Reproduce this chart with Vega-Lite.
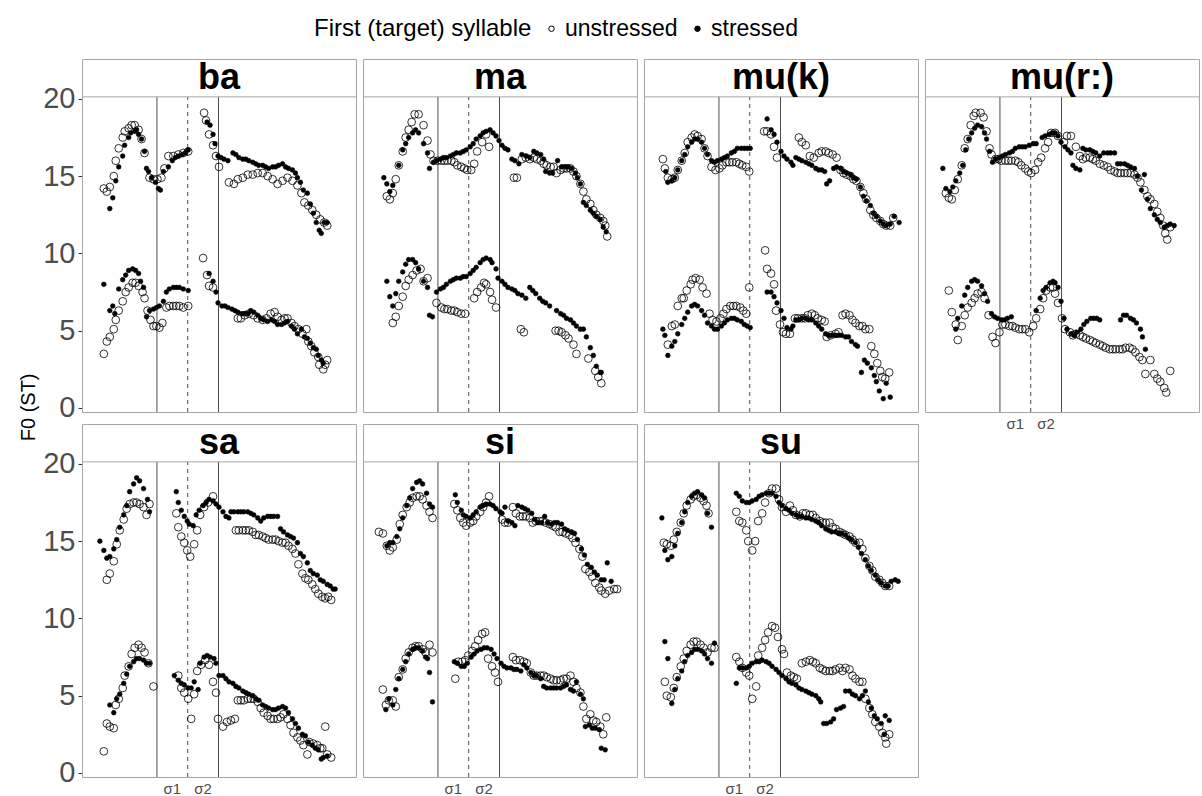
{
"$schema":"https://vega.github.io/schema/vega-lite/v6.json",
"autosize":{"type":"pad"},
"bounds":"flush",
"padding":{"left":18,"top":17,"right":0,"bottom":19},
"background":"white",
"title":{"text":"F0 (ST)","orient":"left","anchor":"middle","fontSize":20,"fontWeight":"normal","color":"black","offset":4},
"data":{"values":[
{"p":"ba","r":75.5,"d":"solid"},{"p":"ba","r":106.5,"d":"dashed"},{"p":"ba","r":137.5,"d":"solid"},
{"p":"ma","r":75.5,"d":"solid"},{"p":"ma","r":106.5,"d":"dashed"},{"p":"ma","r":137.5,"d":"solid"},
{"p":"mu(k)","r":75.5,"d":"solid"},{"p":"mu(k)","r":106.5,"d":"dashed"},{"p":"mu(k)","r":137.5,"d":"solid"},
{"p":"mu(r:)","r":75.5,"d":"solid"},{"p":"mu(r:)","r":106.5,"d":"dashed"},{"p":"mu(r:)","r":137.5,"d":"solid"},
{"p":"sa","r":75.5,"d":"solid"},{"p":"sa","r":106.5,"d":"dashed"},{"p":"sa","r":137.5,"d":"solid"},
{"p":"si","r":75.5,"d":"solid"},{"p":"si","r":106.5,"d":"dashed"},{"p":"si","r":137.5,"d":"solid"},
{"p":"su","r":75.5,"d":"solid"},{"p":"su","r":106.5,"d":"dashed"},{"p":"su","r":137.5,"d":"solid"},
{"p":"ba","s":"u","x":22,"y":14.2},{"p":"ba","s":"u","x":25,"y":14.0},{"p":"ba","s":"u","x":28,"y":14.3},{"p":"ba","s":"u","x":32,"y":15.0},{"p":"ba","s":"u","x":34,"y":16.0},{"p":"ba","s":"u","x":37,"y":16.8},{"p":"ba","s":"u","x":41,"y":17.5},{"p":"ba","s":"u","x":43,"y":17.9},{"p":"ba","s":"u","x":47,"y":18.1},{"p":"ba","s":"u","x":50,"y":18.3},{"p":"ba","s":"u","x":53,"y":18.3},{"p":"ba","s":"u","x":57,"y":18.0},{"p":"ba","s":"u","x":60,"y":17.4},{"p":"ba","s":"u","x":63,"y":16.5},{"p":"ba","s":"u","x":68,"y":14.9},{"p":"ba","s":"u","x":72,"y":14.8},{"p":"ba","s":"u","x":76,"y":14.8},{"p":"ba","s":"u","x":80,"y":14.9},{"p":"ba","s":"u","x":83,"y":15.5},{"p":"ba","s":"u","x":87,"y":16.3},{"p":"ba","s":"u","x":92,"y":16.3},{"p":"ba","s":"u","x":97,"y":16.4},{"p":"ba","s":"u","x":102,"y":16.5},{"p":"ba","s":"u","x":107,"y":16.6},{"p":"ba","s":"u","x":123,"y":19.1},{"p":"ba","s":"u","x":125,"y":18.6},{"p":"ba","s":"u","x":128,"y":17.7},{"p":"ba","s":"u","x":132,"y":17.0},{"p":"ba","s":"u","x":135,"y":16.3},{"p":"ba","s":"u","x":138,"y":15.6},{"p":"ba","s":"u","x":148,"y":14.6},{"p":"ba","s":"u","x":153,"y":14.5},{"p":"ba","s":"u","x":157,"y":14.8},{"p":"ba","s":"u","x":162,"y":14.9},{"p":"ba","s":"u","x":167,"y":15.1},{"p":"ba","s":"u","x":172,"y":15.1},{"p":"ba","s":"u","x":177,"y":15.2},{"p":"ba","s":"u","x":182,"y":15.2},{"p":"ba","s":"u","x":187,"y":15.0},{"p":"ba","s":"u","x":192,"y":14.8},{"p":"ba","s":"u","x":197,"y":14.5},{"p":"ba","s":"u","x":202,"y":14.7},{"p":"ba","s":"u","x":207,"y":14.9},{"p":"ba","s":"u","x":212,"y":14.7},{"p":"ba","s":"u","x":217,"y":14.4},{"p":"ba","s":"u","x":221,"y":13.9},{"p":"ba","s":"u","x":224,"y":13.3},{"p":"ba","s":"u","x":228,"y":13.1},{"p":"ba","s":"u","x":232,"y":12.8},{"p":"ba","s":"u","x":236,"y":12.5},{"p":"ba","s":"u","x":240,"y":12.2},{"p":"ba","s":"u","x":244,"y":12.0},{"p":"ba","s":"u","x":247,"y":11.8},
{"p":"ba","s":"u","x":22,"y":3.5},{"p":"ba","s":"u","x":25,"y":4.3},{"p":"ba","s":"u","x":28,"y":4.6},{"p":"ba","s":"u","x":32,"y":5.1},{"p":"ba","s":"u","x":34,"y":5.7},{"p":"ba","s":"u","x":37,"y":6.3},{"p":"ba","s":"u","x":41,"y":6.9},{"p":"ba","s":"u","x":44,"y":7.5},{"p":"ba","s":"u","x":47,"y":7.8},{"p":"ba","s":"u","x":51,"y":8.1},{"p":"ba","s":"u","x":54,"y":8.1},{"p":"ba","s":"u","x":57,"y":7.9},{"p":"ba","s":"u","x":61,"y":7.5},{"p":"ba","s":"u","x":63,"y":7.1},{"p":"ba","s":"u","x":66,"y":6.3},{"p":"ba","s":"u","x":69,"y":5.7},{"p":"ba","s":"u","x":72,"y":5.3},{"p":"ba","s":"u","x":75,"y":5.3},{"p":"ba","s":"u","x":78,"y":5.2},{"p":"ba","s":"u","x":81,"y":5.5},{"p":"ba","s":"u","x":85,"y":6.5},{"p":"ba","s":"u","x":88,"y":6.6},{"p":"ba","s":"u","x":92,"y":6.6},{"p":"ba","s":"u","x":95,"y":6.6},{"p":"ba","s":"u","x":98,"y":6.6},{"p":"ba","s":"u","x":102,"y":6.5},{"p":"ba","s":"u","x":107,"y":6.6},{"p":"ba","s":"u","x":122,"y":9.7},{"p":"ba","s":"u","x":126,"y":8.6},{"p":"ba","s":"u","x":128,"y":7.9},{"p":"ba","s":"u","x":132,"y":7.8},{"p":"ba","s":"u","x":157,"y":5.8},{"p":"ba","s":"u","x":160,"y":5.8},{"p":"ba","s":"u","x":164,"y":6.0},{"p":"ba","s":"u","x":168,"y":6.1},{"p":"ba","s":"u","x":173,"y":6.0},{"p":"ba","s":"u","x":177,"y":5.8},{"p":"ba","s":"u","x":182,"y":5.7},{"p":"ba","s":"u","x":186,"y":5.8},{"p":"ba","s":"u","x":190,"y":6.1},{"p":"ba","s":"u","x":194,"y":6.2},{"p":"ba","s":"u","x":197,"y":5.9},{"p":"ba","s":"u","x":201,"y":5.7},{"p":"ba","s":"u","x":204,"y":5.8},{"p":"ba","s":"u","x":207,"y":5.8},{"p":"ba","s":"u","x":211,"y":5.5},{"p":"ba","s":"u","x":214,"y":5.3},{"p":"ba","s":"u","x":218,"y":5.1},{"p":"ba","s":"u","x":222,"y":4.8},{"p":"ba","s":"u","x":226,"y":5.1},{"p":"ba","s":"u","x":228,"y":4.3},{"p":"ba","s":"u","x":231,"y":4.0},{"p":"ba","s":"u","x":234,"y":3.6},{"p":"ba","s":"u","x":238,"y":3.3},{"p":"ba","s":"u","x":239,"y":2.8},{"p":"ba","s":"u","x":243,"y":2.5},{"p":"ba","s":"u","x":245,"y":2.8},{"p":"ba","s":"u","x":247,"y":3.1},
{"p":"ma","s":"u","x":24,"y":13.7},{"p":"ma","s":"u","x":27,"y":13.5},{"p":"ma","s":"u","x":30,"y":13.9},{"p":"ma","s":"u","x":33,"y":14.8},{"p":"ma","s":"u","x":36,"y":15.7},{"p":"ma","s":"u","x":40,"y":16.6},{"p":"ma","s":"u","x":43,"y":17.5},{"p":"ma","s":"u","x":46,"y":18.0},{"p":"ma","s":"u","x":49,"y":18.5},{"p":"ma","s":"u","x":52,"y":19.0},{"p":"ma","s":"u","x":56,"y":19.0},{"p":"ma","s":"u","x":61,"y":18.3},{"p":"ma","s":"u","x":65,"y":17.3},{"p":"ma","s":"u","x":68,"y":16.4},{"p":"ma","s":"u","x":71,"y":16.0},{"p":"ma","s":"u","x":75,"y":16.0},{"p":"ma","s":"u","x":79,"y":16.0},{"p":"ma","s":"u","x":82,"y":16.0},{"p":"ma","s":"u","x":85,"y":16.0},{"p":"ma","s":"u","x":89,"y":16.0},{"p":"ma","s":"u","x":92,"y":15.9},{"p":"ma","s":"u","x":95,"y":15.7},{"p":"ma","s":"u","x":99,"y":15.6},{"p":"ma","s":"u","x":102,"y":15.5},{"p":"ma","s":"u","x":105,"y":15.4},{"p":"ma","s":"u","x":109,"y":15.4},{"p":"ma","s":"u","x":112,"y":15.8},{"p":"ma","s":"u","x":115,"y":16.6},{"p":"ma","s":"u","x":120,"y":17.2},{"p":"ma","s":"u","x":124,"y":17.7},{"p":"ma","s":"u","x":127,"y":16.9},{"p":"ma","s":"u","x":152,"y":14.9},{"p":"ma","s":"u","x":155,"y":14.9},{"p":"ma","s":"u","x":160,"y":16.1},{"p":"ma","s":"u","x":164,"y":16.2},{"p":"ma","s":"u","x":168,"y":16.1},{"p":"ma","s":"u","x":172,"y":16.2},{"p":"ma","s":"u","x":175,"y":16.1},{"p":"ma","s":"u","x":179,"y":16.0},{"p":"ma","s":"u","x":182,"y":15.8},{"p":"ma","s":"u","x":185,"y":15.7},{"p":"ma","s":"u","x":189,"y":15.6},{"p":"ma","s":"u","x":192,"y":15.6},{"p":"ma","s":"u","x":195,"y":15.2},{"p":"ma","s":"u","x":199,"y":15.4},{"p":"ma","s":"u","x":202,"y":15.5},{"p":"ma","s":"u","x":205,"y":15.5},{"p":"ma","s":"u","x":209,"y":15.5},{"p":"ma","s":"u","x":212,"y":15.3},{"p":"ma","s":"u","x":215,"y":15.0},{"p":"ma","s":"u","x":219,"y":14.5},{"p":"ma","s":"u","x":222,"y":14.0},{"p":"ma","s":"u","x":225,"y":13.5},{"p":"ma","s":"u","x":229,"y":13.2},{"p":"ma","s":"u","x":232,"y":12.8},{"p":"ma","s":"u","x":235,"y":12.5},{"p":"ma","s":"u","x":239,"y":12.3},{"p":"ma","s":"u","x":242,"y":12.1},{"p":"ma","s":"u","x":244,"y":11.8},{"p":"ma","s":"u","x":246,"y":11.1},
{"p":"ma","s":"u","x":30,"y":5.5},{"p":"ma","s":"u","x":33,"y":5.9},{"p":"ma","s":"u","x":36,"y":6.6},{"p":"ma","s":"u","x":40,"y":7.2},{"p":"ma","s":"u","x":43,"y":7.9},{"p":"ma","s":"u","x":46,"y":8.3},{"p":"ma","s":"u","x":50,"y":8.6},{"p":"ma","s":"u","x":54,"y":8.9},{"p":"ma","s":"u","x":58,"y":9.0},{"p":"ma","s":"u","x":61,"y":8.2},{"p":"ma","s":"u","x":65,"y":8.4},{"p":"ma","s":"u","x":74,"y":6.8},{"p":"ma","s":"u","x":79,"y":6.5},{"p":"ma","s":"u","x":82,"y":6.4},{"p":"ma","s":"u","x":85,"y":6.4},{"p":"ma","s":"u","x":89,"y":6.3},{"p":"ma","s":"u","x":92,"y":6.3},{"p":"ma","s":"u","x":95,"y":6.2},{"p":"ma","s":"u","x":99,"y":6.1},{"p":"ma","s":"u","x":103,"y":6.1},{"p":"ma","s":"u","x":112,"y":7.1},{"p":"ma","s":"u","x":115,"y":7.5},{"p":"ma","s":"u","x":119,"y":7.8},{"p":"ma","s":"u","x":122,"y":8.1},{"p":"ma","s":"u","x":124,"y":8.0},{"p":"ma","s":"u","x":128,"y":7.5},{"p":"ma","s":"u","x":130,"y":7.0},{"p":"ma","s":"u","x":134,"y":6.5},{"p":"ma","s":"u","x":159,"y":5.1},{"p":"ma","s":"u","x":162,"y":4.9},{"p":"ma","s":"u","x":194,"y":5.0},{"p":"ma","s":"u","x":197,"y":5.0},{"p":"ma","s":"u","x":200,"y":4.9},{"p":"ma","s":"u","x":204,"y":4.7},{"p":"ma","s":"u","x":207,"y":4.5},{"p":"ma","s":"u","x":212,"y":4.1},{"p":"ma","s":"u","x":215,"y":3.5},{"p":"ma","s":"u","x":227,"y":3.2},{"p":"ma","s":"u","x":234,"y":2.4},{"p":"ma","s":"u","x":237,"y":2.0},{"p":"ma","s":"u","x":240,"y":1.6},
{"p":"mu(k)","s":"u","x":19,"y":16.1},{"p":"mu(k)","s":"u","x":21,"y":15.5},{"p":"mu(k)","s":"u","x":24,"y":14.9},{"p":"mu(k)","s":"u","x":28,"y":14.8},{"p":"mu(k)","s":"u","x":31,"y":14.9},{"p":"mu(k)","s":"u","x":34,"y":15.4},{"p":"mu(k)","s":"u","x":38,"y":16.0},{"p":"mu(k)","s":"u","x":41,"y":16.5},{"p":"mu(k)","s":"u","x":44,"y":17.2},{"p":"mu(k)","s":"u","x":48,"y":17.5},{"p":"mu(k)","s":"u","x":51,"y":17.7},{"p":"mu(k)","s":"u","x":54,"y":17.6},{"p":"mu(k)","s":"u","x":58,"y":17.4},{"p":"mu(k)","s":"u","x":61,"y":16.8},{"p":"mu(k)","s":"u","x":64,"y":16.3},{"p":"mu(k)","s":"u","x":68,"y":15.6},{"p":"mu(k)","s":"u","x":72,"y":15.4},{"p":"mu(k)","s":"u","x":76,"y":15.5},{"p":"mu(k)","s":"u","x":79,"y":15.7},{"p":"mu(k)","s":"u","x":83,"y":15.9},{"p":"mu(k)","s":"u","x":86,"y":15.9},{"p":"mu(k)","s":"u","x":89,"y":15.9},{"p":"mu(k)","s":"u","x":93,"y":15.9},{"p":"mu(k)","s":"u","x":96,"y":15.8},{"p":"mu(k)","s":"u","x":99,"y":15.7},{"p":"mu(k)","s":"u","x":103,"y":15.6},{"p":"mu(k)","s":"u","x":106,"y":15.3},{"p":"mu(k)","s":"u","x":121,"y":17.9},{"p":"mu(k)","s":"u","x":124,"y":17.9},{"p":"mu(k)","s":"u","x":128,"y":17.7},{"p":"mu(k)","s":"u","x":131,"y":16.9},{"p":"mu(k)","s":"u","x":134,"y":16.2},{"p":"mu(k)","s":"u","x":156,"y":17.5},{"p":"mu(k)","s":"u","x":159,"y":17.2},{"p":"mu(k)","s":"u","x":163,"y":17.0},{"p":"mu(k)","s":"u","x":167,"y":16.3},{"p":"mu(k)","s":"u","x":171,"y":16.2},{"p":"mu(k)","s":"u","x":176,"y":16.5},{"p":"mu(k)","s":"u","x":179,"y":16.6},{"p":"mu(k)","s":"u","x":183,"y":16.6},{"p":"mu(k)","s":"u","x":186,"y":16.5},{"p":"mu(k)","s":"u","x":190,"y":16.4},{"p":"mu(k)","s":"u","x":194,"y":16.2},{"p":"mu(k)","s":"u","x":198,"y":15.4},{"p":"mu(k)","s":"u","x":201,"y":15.2},{"p":"mu(k)","s":"u","x":204,"y":15.1},{"p":"mu(k)","s":"u","x":208,"y":15.0},{"p":"mu(k)","s":"u","x":211,"y":14.8},{"p":"mu(k)","s":"u","x":214,"y":14.7},{"p":"mu(k)","s":"u","x":218,"y":14.3},{"p":"mu(k)","s":"u","x":221,"y":13.9},{"p":"mu(k)","s":"u","x":224,"y":13.5},{"p":"mu(k)","s":"u","x":228,"y":12.8},{"p":"mu(k)","s":"u","x":231,"y":12.5},{"p":"mu(k)","s":"u","x":234,"y":12.3},{"p":"mu(k)","s":"u","x":238,"y":12.1},{"p":"mu(k)","s":"u","x":241,"y":11.9},{"p":"mu(k)","s":"u","x":244,"y":11.8},{"p":"mu(k)","s":"u","x":248,"y":11.8},{"p":"mu(k)","s":"u","x":251,"y":12.3},
{"p":"mu(k)","s":"u","x":24,"y":4.1},{"p":"mu(k)","s":"u","x":28,"y":5.3},{"p":"mu(k)","s":"u","x":31,"y":5.4},{"p":"mu(k)","s":"u","x":34,"y":6.6},{"p":"mu(k)","s":"u","x":38,"y":7.1},{"p":"mu(k)","s":"u","x":40,"y":7.1},{"p":"mu(k)","s":"u","x":43,"y":7.6},{"p":"mu(k)","s":"u","x":47,"y":8.0},{"p":"mu(k)","s":"u","x":49,"y":8.3},{"p":"mu(k)","s":"u","x":52,"y":8.4},{"p":"mu(k)","s":"u","x":56,"y":8.3},{"p":"mu(k)","s":"u","x":59,"y":7.8},{"p":"mu(k)","s":"u","x":63,"y":7.4},{"p":"mu(k)","s":"u","x":66,"y":6.1},{"p":"mu(k)","s":"u","x":69,"y":5.7},{"p":"mu(k)","s":"u","x":73,"y":5.6},{"p":"mu(k)","s":"u","x":77,"y":5.8},{"p":"mu(k)","s":"u","x":80,"y":6.1},{"p":"mu(k)","s":"u","x":83,"y":6.4},{"p":"mu(k)","s":"u","x":87,"y":6.6},{"p":"mu(k)","s":"u","x":90,"y":6.6},{"p":"mu(k)","s":"u","x":93,"y":6.6},{"p":"mu(k)","s":"u","x":97,"y":6.5},{"p":"mu(k)","s":"u","x":100,"y":6.3},{"p":"mu(k)","s":"u","x":103,"y":6.1},{"p":"mu(k)","s":"u","x":106,"y":7.8},{"p":"mu(k)","s":"u","x":122,"y":10.2},{"p":"mu(k)","s":"u","x":124,"y":9.0},{"p":"mu(k)","s":"u","x":128,"y":8.7},{"p":"mu(k)","s":"u","x":131,"y":8.0},{"p":"mu(k)","s":"u","x":133,"y":6.3},{"p":"mu(k)","s":"u","x":137,"y":5.4},{"p":"mu(k)","s":"u","x":140,"y":4.9},{"p":"mu(k)","s":"u","x":143,"y":4.8},{"p":"mu(k)","s":"u","x":147,"y":4.8},{"p":"mu(k)","s":"u","x":152,"y":5.8},{"p":"mu(k)","s":"u","x":155,"y":5.8},{"p":"mu(k)","s":"u","x":159,"y":5.8},{"p":"mu(k)","s":"u","x":162,"y":5.8},{"p":"mu(k)","s":"u","x":165,"y":6.0},{"p":"mu(k)","s":"u","x":169,"y":6.1},{"p":"mu(k)","s":"u","x":172,"y":6.0},{"p":"mu(k)","s":"u","x":175,"y":5.8},{"p":"mu(k)","s":"u","x":179,"y":5.7},{"p":"mu(k)","s":"u","x":182,"y":5.6},{"p":"mu(k)","s":"u","x":184,"y":4.6},{"p":"mu(k)","s":"u","x":188,"y":4.7},{"p":"mu(k)","s":"u","x":193,"y":4.8},{"p":"mu(k)","s":"u","x":196,"y":4.9},{"p":"mu(k)","s":"u","x":200,"y":6.0},{"p":"mu(k)","s":"u","x":203,"y":6.1},{"p":"mu(k)","s":"u","x":207,"y":6.0},{"p":"mu(k)","s":"u","x":210,"y":5.7},{"p":"mu(k)","s":"u","x":213,"y":5.5},{"p":"mu(k)","s":"u","x":217,"y":5.3},{"p":"mu(k)","s":"u","x":220,"y":5.3},{"p":"mu(k)","s":"u","x":223,"y":5.1},{"p":"mu(k)","s":"u","x":227,"y":5.1},{"p":"mu(k)","s":"u","x":229,"y":4.0},{"p":"mu(k)","s":"u","x":232,"y":3.5},{"p":"mu(k)","s":"u","x":235,"y":2.9},{"p":"mu(k)","s":"u","x":238,"y":2.4},{"p":"mu(k)","s":"u","x":240,"y":2.0},{"p":"mu(k)","s":"u","x":243,"y":1.9},{"p":"mu(k)","s":"u","x":247,"y":2.3},
{"p":"mu(r:)","s":"u","x":21,"y":13.9},{"p":"mu(r:)","s":"u","x":24,"y":13.6},{"p":"mu(r:)","s":"u","x":27,"y":13.5},{"p":"mu(r:)","s":"u","x":30,"y":14.1},{"p":"mu(r:)","s":"u","x":33,"y":14.8},{"p":"mu(r:)","s":"u","x":37,"y":15.7},{"p":"mu(r:)","s":"u","x":40,"y":16.8},{"p":"mu(r:)","s":"u","x":43,"y":17.4},{"p":"mu(r:)","s":"u","x":46,"y":18.3},{"p":"mu(r:)","s":"u","x":49,"y":18.9},{"p":"mu(r:)","s":"u","x":51,"y":19.1},{"p":"mu(r:)","s":"u","x":56,"y":19.1},{"p":"mu(r:)","s":"u","x":59,"y":18.8},{"p":"mu(r:)","s":"u","x":62,"y":17.9},{"p":"mu(r:)","s":"u","x":65,"y":16.8},{"p":"mu(r:)","s":"u","x":67,"y":16.4},{"p":"mu(r:)","s":"u","x":71,"y":16.1},{"p":"mu(r:)","s":"u","x":74,"y":16.1},{"p":"mu(r:)","s":"u","x":77,"y":16.0},{"p":"mu(r:)","s":"u","x":81,"y":16.0},{"p":"mu(r:)","s":"u","x":84,"y":16.0},{"p":"mu(r:)","s":"u","x":87,"y":16.0},{"p":"mu(r:)","s":"u","x":91,"y":16.0},{"p":"mu(r:)","s":"u","x":94,"y":15.9},{"p":"mu(r:)","s":"u","x":97,"y":15.7},{"p":"mu(r:)","s":"u","x":101,"y":15.5},{"p":"mu(r:)","s":"u","x":104,"y":15.3},{"p":"mu(r:)","s":"u","x":107,"y":15.2},{"p":"mu(r:)","s":"u","x":111,"y":15.4},{"p":"mu(r:)","s":"u","x":114,"y":15.9},{"p":"mu(r:)","s":"u","x":117,"y":16.2},{"p":"mu(r:)","s":"u","x":121,"y":16.8},{"p":"mu(r:)","s":"u","x":124,"y":17.2},{"p":"mu(r:)","s":"u","x":127,"y":17.8},{"p":"mu(r:)","s":"u","x":131,"y":17.8},{"p":"mu(r:)","s":"u","x":134,"y":17.6},{"p":"mu(r:)","s":"u","x":140,"y":17.2},{"p":"mu(r:)","s":"u","x":143,"y":17.6},{"p":"mu(r:)","s":"u","x":147,"y":17.6},{"p":"mu(r:)","s":"u","x":152,"y":16.9},{"p":"mu(r:)","s":"u","x":156,"y":16.3},{"p":"mu(r:)","s":"u","x":159,"y":16.1},{"p":"mu(r:)","s":"u","x":162,"y":16.2},{"p":"mu(r:)","s":"u","x":166,"y":16.2},{"p":"mu(r:)","s":"u","x":169,"y":16.1},{"p":"mu(r:)","s":"u","x":172,"y":16.0},{"p":"mu(r:)","s":"u","x":176,"y":15.8},{"p":"mu(r:)","s":"u","x":180,"y":15.7},{"p":"mu(r:)","s":"u","x":184,"y":15.6},{"p":"mu(r:)","s":"u","x":187,"y":15.4},{"p":"mu(r:)","s":"u","x":191,"y":15.3},{"p":"mu(r:)","s":"u","x":194,"y":15.2},{"p":"mu(r:)","s":"u","x":197,"y":15.2},{"p":"mu(r:)","s":"u","x":201,"y":15.2},{"p":"mu(r:)","s":"u","x":204,"y":15.2},{"p":"mu(r:)","s":"u","x":207,"y":15.2},{"p":"mu(r:)","s":"u","x":211,"y":15.1},{"p":"mu(r:)","s":"u","x":214,"y":14.9},{"p":"mu(r:)","s":"u","x":217,"y":14.6},{"p":"mu(r:)","s":"u","x":221,"y":14.1},{"p":"mu(r:)","s":"u","x":224,"y":13.7},{"p":"mu(r:)","s":"u","x":227,"y":13.5},{"p":"mu(r:)","s":"u","x":231,"y":13.2},{"p":"mu(r:)","s":"u","x":234,"y":12.7},{"p":"mu(r:)","s":"u","x":237,"y":12.3},{"p":"mu(r:)","s":"u","x":240,"y":11.8},{"p":"mu(r:)","s":"u","x":242,"y":11.3},{"p":"mu(r:)","s":"u","x":244,"y":10.9},{"p":"mu(r:)","s":"u","x":247,"y":11.7},
{"p":"mu(r:)","s":"u","x":24,"y":7.6},{"p":"mu(r:)","s":"u","x":27,"y":6.2},{"p":"mu(r:)","s":"u","x":31,"y":5.4},{"p":"mu(r:)","s":"u","x":33,"y":4.4},{"p":"mu(r:)","s":"u","x":37,"y":5.3},{"p":"mu(r:)","s":"u","x":40,"y":6.0},{"p":"mu(r:)","s":"u","x":43,"y":6.5},{"p":"mu(r:)","s":"u","x":47,"y":6.8},{"p":"mu(r:)","s":"u","x":50,"y":7.1},{"p":"mu(r:)","s":"u","x":53,"y":7.4},{"p":"mu(r:)","s":"u","x":57,"y":7.5},{"p":"mu(r:)","s":"u","x":60,"y":7.1},{"p":"mu(r:)","s":"u","x":64,"y":6.0},{"p":"mu(r:)","s":"u","x":68,"y":4.6},{"p":"mu(r:)","s":"u","x":71,"y":4.2},{"p":"mu(r:)","s":"u","x":75,"y":4.9},{"p":"mu(r:)","s":"u","x":78,"y":5.4},{"p":"mu(r:)","s":"u","x":81,"y":5.4},{"p":"mu(r:)","s":"u","x":85,"y":5.3},{"p":"mu(r:)","s":"u","x":88,"y":5.3},{"p":"mu(r:)","s":"u","x":91,"y":5.2},{"p":"mu(r:)","s":"u","x":95,"y":5.1},{"p":"mu(r:)","s":"u","x":98,"y":5.1},{"p":"mu(r:)","s":"u","x":101,"y":5.1},{"p":"mu(r:)","s":"u","x":105,"y":4.9},{"p":"mu(r:)","s":"u","x":109,"y":5.3},{"p":"mu(r:)","s":"u","x":112,"y":5.8},{"p":"mu(r:)","s":"u","x":116,"y":6.4},{"p":"mu(r:)","s":"u","x":119,"y":7.1},{"p":"mu(r:)","s":"u","x":122,"y":7.6},{"p":"mu(r:)","s":"u","x":126,"y":7.8},{"p":"mu(r:)","s":"u","x":129,"y":7.8},{"p":"mu(r:)","s":"u","x":131,"y":7.4},{"p":"mu(r:)","s":"u","x":134,"y":6.8},{"p":"mu(r:)","s":"u","x":138,"y":5.8},{"p":"mu(r:)","s":"u","x":141,"y":5.1},{"p":"mu(r:)","s":"u","x":146,"y":4.9},{"p":"mu(r:)","s":"u","x":149,"y":4.7},{"p":"mu(r:)","s":"u","x":152,"y":4.8},{"p":"mu(r:)","s":"u","x":156,"y":4.7},{"p":"mu(r:)","s":"u","x":159,"y":4.6},{"p":"mu(r:)","s":"u","x":162,"y":4.5},{"p":"mu(r:)","s":"u","x":166,"y":4.4},{"p":"mu(r:)","s":"u","x":169,"y":4.3},{"p":"mu(r:)","s":"u","x":172,"y":4.2},{"p":"mu(r:)","s":"u","x":176,"y":4.1},{"p":"mu(r:)","s":"u","x":179,"y":4.0},{"p":"mu(r:)","s":"u","x":182,"y":3.9},{"p":"mu(r:)","s":"u","x":186,"y":3.8},{"p":"mu(r:)","s":"u","x":189,"y":3.8},{"p":"mu(r:)","s":"u","x":192,"y":3.8},{"p":"mu(r:)","s":"u","x":196,"y":3.8},{"p":"mu(r:)","s":"u","x":199,"y":3.8},{"p":"mu(r:)","s":"u","x":202,"y":3.9},{"p":"mu(r:)","s":"u","x":206,"y":3.9},{"p":"mu(r:)","s":"u","x":209,"y":3.8},{"p":"mu(r:)","s":"u","x":212,"y":3.6},{"p":"mu(r:)","s":"u","x":216,"y":3.3},{"p":"mu(r:)","s":"u","x":219,"y":3.1},{"p":"mu(r:)","s":"u","x":222,"y":2.2},{"p":"mu(r:)","s":"u","x":227,"y":3.1},{"p":"mu(r:)","s":"u","x":231,"y":2.2},{"p":"mu(r:)","s":"u","x":234,"y":1.9},{"p":"mu(r:)","s":"u","x":237,"y":1.7},{"p":"mu(r:)","s":"u","x":241,"y":1.3},{"p":"mu(r:)","s":"u","x":243,"y":1.0},{"p":"mu(r:)","s":"u","x":247,"y":2.4},
{"p":"sa","s":"u","x":25,"y":12.5},{"p":"sa","s":"u","x":28,"y":12.9},{"p":"sa","s":"u","x":32,"y":13.7},{"p":"sa","s":"u","x":35,"y":14.8},{"p":"sa","s":"u","x":38,"y":15.7},{"p":"sa","s":"u","x":42,"y":16.4},{"p":"sa","s":"u","x":45,"y":17.1},{"p":"sa","s":"u","x":48,"y":17.4},{"p":"sa","s":"u","x":52,"y":17.5},{"p":"sa","s":"u","x":55,"y":17.5},{"p":"sa","s":"u","x":58,"y":17.4},{"p":"sa","s":"u","x":62,"y":17.2},{"p":"sa","s":"u","x":65,"y":16.7},{"p":"sa","s":"u","x":68,"y":17.4},{"p":"sa","s":"u","x":95,"y":16.8},{"p":"sa","s":"u","x":97,"y":15.9},{"p":"sa","s":"u","x":100,"y":15.3},{"p":"sa","s":"u","x":103,"y":14.9},{"p":"sa","s":"u","x":106,"y":14.4},{"p":"sa","s":"u","x":109,"y":14.0},{"p":"sa","s":"u","x":113,"y":14.8},{"p":"sa","s":"u","x":116,"y":15.7},{"p":"sa","s":"u","x":119,"y":16.7},{"p":"sa","s":"u","x":123,"y":17.2},{"p":"sa","s":"u","x":127,"y":17.5},{"p":"sa","s":"u","x":132,"y":17.9},{"p":"sa","s":"u","x":155,"y":15.7},{"p":"sa","s":"u","x":158,"y":15.7},{"p":"sa","s":"u","x":162,"y":15.7},{"p":"sa","s":"u","x":165,"y":15.7},{"p":"sa","s":"u","x":168,"y":15.7},{"p":"sa","s":"u","x":172,"y":15.6},{"p":"sa","s":"u","x":175,"y":15.4},{"p":"sa","s":"u","x":178,"y":15.4},{"p":"sa","s":"u","x":182,"y":15.3},{"p":"sa","s":"u","x":185,"y":15.2},{"p":"sa","s":"u","x":188,"y":15.1},{"p":"sa","s":"u","x":192,"y":15.1},{"p":"sa","s":"u","x":195,"y":15.1},{"p":"sa","s":"u","x":198,"y":15.0},{"p":"sa","s":"u","x":202,"y":14.9},{"p":"sa","s":"u","x":205,"y":14.9},{"p":"sa","s":"u","x":208,"y":14.7},{"p":"sa","s":"u","x":212,"y":14.5},{"p":"sa","s":"u","x":215,"y":14.2},{"p":"sa","s":"u","x":218,"y":13.5},{"p":"sa","s":"u","x":222,"y":12.9},{"p":"sa","s":"u","x":225,"y":12.6},{"p":"sa","s":"u","x":228,"y":12.5},{"p":"sa","s":"u","x":232,"y":12.2},{"p":"sa","s":"u","x":235,"y":11.9},{"p":"sa","s":"u","x":238,"y":11.6},{"p":"sa","s":"u","x":242,"y":11.4},{"p":"sa","s":"u","x":245,"y":11.3},{"p":"sa","s":"u","x":248,"y":11.4},{"p":"sa","s":"u","x":251,"y":11.2},
{"p":"sa","s":"u","x":22,"y":1.4},{"p":"sa","s":"u","x":25,"y":3.2},{"p":"sa","s":"u","x":28,"y":3.0},{"p":"sa","s":"u","x":32,"y":2.9},{"p":"sa","s":"u","x":34,"y":4.4},{"p":"sa","s":"u","x":37,"y":4.8},{"p":"sa","s":"u","x":41,"y":5.5},{"p":"sa","s":"u","x":43,"y":6.3},{"p":"sa","s":"u","x":47,"y":6.9},{"p":"sa","s":"u","x":50,"y":7.7},{"p":"sa","s":"u","x":53,"y":8.1},{"p":"sa","s":"u","x":57,"y":8.3},{"p":"sa","s":"u","x":60,"y":8.1},{"p":"sa","s":"u","x":63,"y":7.8},{"p":"sa","s":"u","x":67,"y":7.1},{"p":"sa","s":"u","x":72,"y":5.6},{"p":"sa","s":"u","x":97,"y":6.3},{"p":"sa","s":"u","x":100,"y":5.5},{"p":"sa","s":"u","x":103,"y":5.2},{"p":"sa","s":"u","x":107,"y":4.8},{"p":"sa","s":"u","x":110,"y":3.5},{"p":"sa","s":"u","x":113,"y":5.1},{"p":"sa","s":"u","x":116,"y":6.6},{"p":"sa","s":"u","x":120,"y":7.0},{"p":"sa","s":"u","x":124,"y":7.3},{"p":"sa","s":"u","x":128,"y":7.0},{"p":"sa","s":"u","x":132,"y":5.9},{"p":"sa","s":"u","x":135,"y":5.2},{"p":"sa","s":"u","x":137,"y":3.5},{"p":"sa","s":"u","x":142,"y":3.0},{"p":"sa","s":"u","x":146,"y":3.3},{"p":"sa","s":"u","x":150,"y":3.4},{"p":"sa","s":"u","x":154,"y":3.5},{"p":"sa","s":"u","x":157,"y":4.7},{"p":"sa","s":"u","x":160,"y":4.7},{"p":"sa","s":"u","x":163,"y":4.7},{"p":"sa","s":"u","x":167,"y":4.8},{"p":"sa","s":"u","x":170,"y":4.8},{"p":"sa","s":"u","x":173,"y":4.8},{"p":"sa","s":"u","x":177,"y":4.6},{"p":"sa","s":"u","x":180,"y":4.2},{"p":"sa","s":"u","x":183,"y":3.9},{"p":"sa","s":"u","x":187,"y":3.7},{"p":"sa","s":"u","x":190,"y":3.5},{"p":"sa","s":"u","x":193,"y":3.5},{"p":"sa","s":"u","x":197,"y":3.5},{"p":"sa","s":"u","x":200,"y":3.6},{"p":"sa","s":"u","x":203,"y":3.8},{"p":"sa","s":"u","x":207,"y":3.5},{"p":"sa","s":"u","x":210,"y":3.1},{"p":"sa","s":"u","x":213,"y":2.6},{"p":"sa","s":"u","x":217,"y":2.3},{"p":"sa","s":"u","x":220,"y":2.1},{"p":"sa","s":"u","x":223,"y":1.8},{"p":"sa","s":"u","x":227,"y":1.2},{"p":"sa","s":"u","x":229,"y":2.0},{"p":"sa","s":"u","x":233,"y":1.9},{"p":"sa","s":"u","x":237,"y":1.8},{"p":"sa","s":"u","x":240,"y":1.6},{"p":"sa","s":"u","x":242,"y":1.6},{"p":"sa","s":"u","x":245,"y":3.0},{"p":"sa","s":"u","x":247,"y":1.2},{"p":"sa","s":"u","x":251,"y":1.0},
{"p":"si","s":"u","x":16,"y":15.6},{"p":"si","s":"u","x":20,"y":15.5},{"p":"si","s":"u","x":24,"y":14.7},{"p":"si","s":"u","x":27,"y":14.4},{"p":"si","s":"u","x":30,"y":14.6},{"p":"si","s":"u","x":34,"y":15.1},{"p":"si","s":"u","x":37,"y":16.1},{"p":"si","s":"u","x":40,"y":16.7},{"p":"si","s":"u","x":44,"y":17.2},{"p":"si","s":"u","x":47,"y":17.5},{"p":"si","s":"u","x":50,"y":17.8},{"p":"si","s":"u","x":54,"y":17.9},{"p":"si","s":"u","x":57,"y":17.9},{"p":"si","s":"u","x":60,"y":17.7},{"p":"si","s":"u","x":64,"y":17.3},{"p":"si","s":"u","x":67,"y":16.9},{"p":"si","s":"u","x":70,"y":16.5},{"p":"si","s":"u","x":92,"y":17.4},{"p":"si","s":"u","x":95,"y":17.0},{"p":"si","s":"u","x":98,"y":16.5},{"p":"si","s":"u","x":101,"y":16.2},{"p":"si","s":"u","x":104,"y":16.0},{"p":"si","s":"u","x":108,"y":16.2},{"p":"si","s":"u","x":111,"y":16.3},{"p":"si","s":"u","x":114,"y":16.6},{"p":"si","s":"u","x":118,"y":16.9},{"p":"si","s":"u","x":121,"y":17.2},{"p":"si","s":"u","x":124,"y":17.5},{"p":"si","s":"u","x":127,"y":17.9},{"p":"si","s":"u","x":140,"y":16.4},{"p":"si","s":"u","x":143,"y":16.2},{"p":"si","s":"u","x":146,"y":16.2},{"p":"si","s":"u","x":151,"y":17.2},{"p":"si","s":"u","x":154,"y":16.8},{"p":"si","s":"u","x":158,"y":16.6},{"p":"si","s":"u","x":161,"y":16.6},{"p":"si","s":"u","x":164,"y":16.6},{"p":"si","s":"u","x":168,"y":16.5},{"p":"si","s":"u","x":171,"y":16.2},{"p":"si","s":"u","x":174,"y":16.3},{"p":"si","s":"u","x":178,"y":16.3},{"p":"si","s":"u","x":181,"y":16.3},{"p":"si","s":"u","x":184,"y":16.2},{"p":"si","s":"u","x":188,"y":16.1},{"p":"si","s":"u","x":191,"y":16.0},{"p":"si","s":"u","x":194,"y":15.9},{"p":"si","s":"u","x":198,"y":15.6},{"p":"si","s":"u","x":201,"y":15.6},{"p":"si","s":"u","x":204,"y":15.5},{"p":"si","s":"u","x":208,"y":15.4},{"p":"si","s":"u","x":211,"y":15.2},{"p":"si","s":"u","x":214,"y":14.9},{"p":"si","s":"u","x":218,"y":14.5},{"p":"si","s":"u","x":221,"y":14.0},{"p":"si","s":"u","x":224,"y":13.2},{"p":"si","s":"u","x":228,"y":13.0},{"p":"si","s":"u","x":231,"y":12.7},{"p":"si","s":"u","x":234,"y":12.3},{"p":"si","s":"u","x":238,"y":12.0},{"p":"si","s":"u","x":240,"y":11.8},{"p":"si","s":"u","x":244,"y":11.6},{"p":"si","s":"u","x":248,"y":11.8},{"p":"si","s":"u","x":253,"y":11.9},{"p":"si","s":"u","x":256,"y":11.9},
{"p":"si","s":"u","x":20,"y":5.4},{"p":"si","s":"u","x":23,"y":4.4},{"p":"si","s":"u","x":26,"y":4.7},{"p":"si","s":"u","x":30,"y":4.7},{"p":"si","s":"u","x":33,"y":4.3},{"p":"si","s":"u","x":36,"y":6.2},{"p":"si","s":"u","x":40,"y":6.7},{"p":"si","s":"u","x":43,"y":7.4},{"p":"si","s":"u","x":46,"y":7.8},{"p":"si","s":"u","x":50,"y":8.1},{"p":"si","s":"u","x":53,"y":8.2},{"p":"si","s":"u","x":56,"y":8.2},{"p":"si","s":"u","x":60,"y":8.0},{"p":"si","s":"u","x":63,"y":7.8},{"p":"si","s":"u","x":67,"y":8.3},{"p":"si","s":"u","x":70,"y":7.8},{"p":"si","s":"u","x":93,"y":6.1},{"p":"si","s":"u","x":96,"y":7.2},{"p":"si","s":"u","x":100,"y":7.2},{"p":"si","s":"u","x":103,"y":7.3},{"p":"si","s":"u","x":106,"y":7.6},{"p":"si","s":"u","x":110,"y":7.9},{"p":"si","s":"u","x":113,"y":8.2},{"p":"si","s":"u","x":116,"y":8.6},{"p":"si","s":"u","x":120,"y":9.0},{"p":"si","s":"u","x":123,"y":9.1},{"p":"si","s":"u","x":126,"y":7.4},{"p":"si","s":"u","x":130,"y":6.9},{"p":"si","s":"u","x":133,"y":6.5},{"p":"si","s":"u","x":136,"y":5.9},{"p":"si","s":"u","x":151,"y":7.5},{"p":"si","s":"u","x":154,"y":7.3},{"p":"si","s":"u","x":158,"y":7.3},{"p":"si","s":"u","x":162,"y":7.2},{"p":"si","s":"u","x":165,"y":7.1},{"p":"si","s":"u","x":169,"y":6.5},{"p":"si","s":"u","x":172,"y":6.3},{"p":"si","s":"u","x":175,"y":6.3},{"p":"si","s":"u","x":179,"y":6.3},{"p":"si","s":"u","x":182,"y":6.3},{"p":"si","s":"u","x":185,"y":6.2},{"p":"si","s":"u","x":189,"y":6.1},{"p":"si","s":"u","x":192,"y":6.0},{"p":"si","s":"u","x":195,"y":6.0},{"p":"si","s":"u","x":199,"y":6.0},{"p":"si","s":"u","x":202,"y":6.1},{"p":"si","s":"u","x":205,"y":6.1},{"p":"si","s":"u","x":209,"y":6.3},{"p":"si","s":"u","x":212,"y":5.9},{"p":"si","s":"u","x":215,"y":5.5},{"p":"si","s":"u","x":219,"y":5.2},{"p":"si","s":"u","x":222,"y":4.3},{"p":"si","s":"u","x":225,"y":3.5},{"p":"si","s":"u","x":229,"y":3.8},{"p":"si","s":"u","x":232,"y":3.4},{"p":"si","s":"u","x":235,"y":3.3},{"p":"si","s":"u","x":239,"y":3.0},{"p":"si","s":"u","x":242,"y":2.5},{"p":"si","s":"u","x":245,"y":3.6},
{"p":"su","s":"u","x":20,"y":14.9},{"p":"su","s":"u","x":23,"y":14.8},{"p":"su","s":"u","x":27,"y":14.7},{"p":"su","s":"u","x":30,"y":15.1},{"p":"su","s":"u","x":33,"y":15.6},{"p":"su","s":"u","x":37,"y":16.2},{"p":"su","s":"u","x":40,"y":16.8},{"p":"su","s":"u","x":43,"y":17.3},{"p":"su","s":"u","x":47,"y":17.7},{"p":"su","s":"u","x":50,"y":17.9},{"p":"su","s":"u","x":53,"y":18.0},{"p":"su","s":"u","x":57,"y":17.8},{"p":"su","s":"u","x":60,"y":17.6},{"p":"su","s":"u","x":63,"y":17.3},{"p":"su","s":"u","x":65,"y":16.8},{"p":"su","s":"u","x":93,"y":16.9},{"p":"su","s":"u","x":96,"y":16.3},{"p":"su","s":"u","x":99,"y":16.2},{"p":"su","s":"u","x":103,"y":15.7},{"p":"su","s":"u","x":105,"y":15.0},{"p":"su","s":"u","x":109,"y":14.4},{"p":"su","s":"u","x":112,"y":15.0},{"p":"su","s":"u","x":115,"y":16.3},{"p":"su","s":"u","x":119,"y":16.8},{"p":"su","s":"u","x":122,"y":17.5},{"p":"su","s":"u","x":126,"y":18.1},{"p":"su","s":"u","x":129,"y":18.4},{"p":"su","s":"u","x":133,"y":18.4},{"p":"su","s":"u","x":136,"y":17.7},{"p":"su","s":"u","x":139,"y":17.2},{"p":"su","s":"u","x":143,"y":16.9},{"p":"su","s":"u","x":147,"y":17.3},{"p":"su","s":"u","x":150,"y":17.0},{"p":"su","s":"u","x":153,"y":16.7},{"p":"su","s":"u","x":157,"y":16.6},{"p":"su","s":"u","x":160,"y":16.8},{"p":"su","s":"u","x":163,"y":16.8},{"p":"su","s":"u","x":167,"y":16.7},{"p":"su","s":"u","x":170,"y":16.7},{"p":"su","s":"u","x":173,"y":16.5},{"p":"su","s":"u","x":177,"y":16.3},{"p":"su","s":"u","x":180,"y":16.2},{"p":"su","s":"u","x":183,"y":16.2},{"p":"su","s":"u","x":187,"y":16.2},{"p":"su","s":"u","x":190,"y":15.9},{"p":"su","s":"u","x":193,"y":15.8},{"p":"su","s":"u","x":197,"y":15.6},{"p":"su","s":"u","x":200,"y":15.5},{"p":"su","s":"u","x":203,"y":15.4},{"p":"su","s":"u","x":207,"y":15.3},{"p":"su","s":"u","x":210,"y":15.1},{"p":"su","s":"u","x":213,"y":14.9},{"p":"su","s":"u","x":217,"y":14.9},{"p":"su","s":"u","x":220,"y":14.5},{"p":"su","s":"u","x":223,"y":13.9},{"p":"su","s":"u","x":227,"y":13.4},{"p":"su","s":"u","x":230,"y":13.1},{"p":"su","s":"u","x":233,"y":12.7},{"p":"su","s":"u","x":237,"y":12.5},{"p":"su","s":"u","x":240,"y":12.3},{"p":"su","s":"u","x":243,"y":12.1},{"p":"su","s":"u","x":247,"y":12.1},
{"p":"su","s":"u","x":21,"y":5.9},{"p":"su","s":"u","x":23,"y":5.0},{"p":"su","s":"u","x":27,"y":4.9},{"p":"su","s":"u","x":30,"y":5.5},{"p":"su","s":"u","x":33,"y":6.2},{"p":"su","s":"u","x":37,"y":6.9},{"p":"su","s":"u","x":40,"y":7.4},{"p":"su","s":"u","x":43,"y":7.9},{"p":"su","s":"u","x":47,"y":8.3},{"p":"su","s":"u","x":50,"y":8.5},{"p":"su","s":"u","x":53,"y":8.5},{"p":"su","s":"u","x":57,"y":8.3},{"p":"su","s":"u","x":60,"y":8.1},{"p":"su","s":"u","x":64,"y":7.8},{"p":"su","s":"u","x":68,"y":8.1},{"p":"su","s":"u","x":71,"y":8.1},{"p":"su","s":"u","x":93,"y":7.5},{"p":"su","s":"u","x":96,"y":7.2},{"p":"su","s":"u","x":99,"y":6.8},{"p":"su","s":"u","x":103,"y":6.5},{"p":"su","s":"u","x":106,"y":6.3},{"p":"su","s":"u","x":109,"y":4.8},{"p":"su","s":"u","x":113,"y":5.6},{"p":"su","s":"u","x":115,"y":7.6},{"p":"su","s":"u","x":119,"y":8.1},{"p":"su","s":"u","x":122,"y":8.6},{"p":"su","s":"u","x":125,"y":9.1},{"p":"su","s":"u","x":129,"y":9.5},{"p":"su","s":"u","x":132,"y":9.4},{"p":"su","s":"u","x":135,"y":8.8},{"p":"su","s":"u","x":139,"y":8.0},{"p":"su","s":"u","x":141,"y":7.7},{"p":"su","s":"u","x":144,"y":6.5},{"p":"su","s":"u","x":148,"y":6.3},{"p":"su","s":"u","x":151,"y":6.2},{"p":"su","s":"u","x":154,"y":6.1},{"p":"su","s":"u","x":159,"y":7.1},{"p":"su","s":"u","x":163,"y":7.2},{"p":"su","s":"u","x":167,"y":7.3},{"p":"su","s":"u","x":170,"y":7.2},{"p":"su","s":"u","x":173,"y":7.1},{"p":"su","s":"u","x":177,"y":6.8},{"p":"su","s":"u","x":180,"y":6.7},{"p":"su","s":"u","x":183,"y":6.6},{"p":"su","s":"u","x":187,"y":6.6},{"p":"su","s":"u","x":190,"y":6.6},{"p":"su","s":"u","x":193,"y":6.7},{"p":"su","s":"u","x":197,"y":6.8},{"p":"su","s":"u","x":200,"y":6.6},{"p":"su","s":"u","x":203,"y":6.8},{"p":"su","s":"u","x":207,"y":6.7},{"p":"su","s":"u","x":210,"y":6.3},{"p":"su","s":"u","x":213,"y":6.1},{"p":"su","s":"u","x":217,"y":5.9},{"p":"su","s":"u","x":220,"y":5.9},{"p":"su","s":"u","x":223,"y":4.8},{"p":"su","s":"u","x":227,"y":4.2},{"p":"su","s":"u","x":230,"y":3.8},{"p":"su","s":"u","x":233,"y":3.3},{"p":"su","s":"u","x":237,"y":3.0},{"p":"su","s":"u","x":240,"y":2.6},{"p":"su","s":"u","x":243,"y":2.3},{"p":"su","s":"u","x":244,"y":1.9},{"p":"su","s":"u","x":247,"y":2.5},
{"p":"ba","s":"s","x":28,"y":12.9},{"p":"ba","s":"s","x":31,"y":13.6},{"p":"ba","s":"s","x":34,"y":14.7},{"p":"ba","s":"s","x":37,"y":15.6},{"p":"ba","s":"s","x":41,"y":16.3},{"p":"ba","s":"s","x":43,"y":17.0},{"p":"ba","s":"s","x":47,"y":17.5},{"p":"ba","s":"s","x":49,"y":17.8},{"p":"ba","s":"s","x":53,"y":17.9},{"p":"ba","s":"s","x":55,"y":18.0},{"p":"ba","s":"s","x":57,"y":17.7},{"p":"ba","s":"s","x":60,"y":17.4},{"p":"ba","s":"s","x":63,"y":16.6},{"p":"ba","s":"s","x":65,"y":15.5},{"p":"ba","s":"s","x":67,"y":15.3},{"p":"ba","s":"s","x":70,"y":14.9},{"p":"ba","s":"s","x":74,"y":14.6},{"p":"ba","s":"s","x":77,"y":14.2},{"p":"ba","s":"s","x":79,"y":14.1},{"p":"ba","s":"s","x":82,"y":15.3},{"p":"ba","s":"s","x":87,"y":15.6},{"p":"ba","s":"s","x":91,"y":16.0},{"p":"ba","s":"s","x":94,"y":16.2},{"p":"ba","s":"s","x":97,"y":16.3},{"p":"ba","s":"s","x":101,"y":16.4},{"p":"ba","s":"s","x":104,"y":16.5},{"p":"ba","s":"s","x":107,"y":16.7},{"p":"ba","s":"s","x":126,"y":18.5},{"p":"ba","s":"s","x":129,"y":18.3},{"p":"ba","s":"s","x":132,"y":17.7},{"p":"ba","s":"s","x":134,"y":17.1},{"p":"ba","s":"s","x":137,"y":16.3},{"p":"ba","s":"s","x":140,"y":16.2},{"p":"ba","s":"s","x":143,"y":16.1},{"p":"ba","s":"s","x":147,"y":16.0},{"p":"ba","s":"s","x":152,"y":16.5},{"p":"ba","s":"s","x":155,"y":16.4},{"p":"ba","s":"s","x":158,"y":16.2},{"p":"ba","s":"s","x":162,"y":16.1},{"p":"ba","s":"s","x":165,"y":16.1},{"p":"ba","s":"s","x":168,"y":16.0},{"p":"ba","s":"s","x":172,"y":15.9},{"p":"ba","s":"s","x":175,"y":15.8},{"p":"ba","s":"s","x":178,"y":15.7},{"p":"ba","s":"s","x":182,"y":15.7},{"p":"ba","s":"s","x":185,"y":15.6},{"p":"ba","s":"s","x":188,"y":15.5},{"p":"ba","s":"s","x":192,"y":15.6},{"p":"ba","s":"s","x":195,"y":15.6},{"p":"ba","s":"s","x":198,"y":15.7},{"p":"ba","s":"s","x":202,"y":15.8},{"p":"ba","s":"s","x":205,"y":15.6},{"p":"ba","s":"s","x":208,"y":15.5},{"p":"ba","s":"s","x":212,"y":15.4},{"p":"ba","s":"s","x":215,"y":15.2},{"p":"ba","s":"s","x":217,"y":14.9},{"p":"ba","s":"s","x":220,"y":14.6},{"p":"ba","s":"s","x":223,"y":14.1},{"p":"ba","s":"s","x":227,"y":13.9},{"p":"ba","s":"s","x":230,"y":13.2},{"p":"ba","s":"s","x":233,"y":12.6},{"p":"ba","s":"s","x":236,"y":12.0},{"p":"ba","s":"s","x":239,"y":11.5},{"p":"ba","s":"s","x":241,"y":11.3},{"p":"ba","s":"s","x":244,"y":12.0},{"p":"ba","s":"s","x":247,"y":12.0},
{"p":"ba","s":"s","x":22,"y":8.0},{"p":"ba","s":"s","x":28,"y":6.3},{"p":"ba","s":"s","x":31,"y":6.6},{"p":"ba","s":"s","x":33,"y":6.1},{"p":"ba","s":"s","x":37,"y":7.7},{"p":"ba","s":"s","x":41,"y":8.3},{"p":"ba","s":"s","x":44,"y":8.6},{"p":"ba","s":"s","x":47,"y":8.9},{"p":"ba","s":"s","x":51,"y":9.0},{"p":"ba","s":"s","x":54,"y":8.9},{"p":"ba","s":"s","x":57,"y":8.7},{"p":"ba","s":"s","x":59,"y":8.2},{"p":"ba","s":"s","x":62,"y":7.8},{"p":"ba","s":"s","x":65,"y":5.9},{"p":"ba","s":"s","x":68,"y":6.3},{"p":"ba","s":"s","x":72,"y":6.4},{"p":"ba","s":"s","x":75,"y":6.5},{"p":"ba","s":"s","x":78,"y":6.6},{"p":"ba","s":"s","x":82,"y":6.9},{"p":"ba","s":"s","x":85,"y":7.5},{"p":"ba","s":"s","x":88,"y":7.7},{"p":"ba","s":"s","x":92,"y":7.8},{"p":"ba","s":"s","x":95,"y":7.8},{"p":"ba","s":"s","x":98,"y":7.8},{"p":"ba","s":"s","x":102,"y":7.7},{"p":"ba","s":"s","x":107,"y":7.6},{"p":"ba","s":"s","x":128,"y":8.7},{"p":"ba","s":"s","x":132,"y":8.2},{"p":"ba","s":"s","x":135,"y":7.5},{"p":"ba","s":"s","x":137,"y":6.8},{"p":"ba","s":"s","x":141,"y":6.6},{"p":"ba","s":"s","x":144,"y":6.6},{"p":"ba","s":"s","x":147,"y":6.5},{"p":"ba","s":"s","x":151,"y":6.4},{"p":"ba","s":"s","x":154,"y":6.3},{"p":"ba","s":"s","x":157,"y":6.2},{"p":"ba","s":"s","x":161,"y":6.1},{"p":"ba","s":"s","x":164,"y":6.1},{"p":"ba","s":"s","x":167,"y":6.1},{"p":"ba","s":"s","x":170,"y":6.3},{"p":"ba","s":"s","x":173,"y":6.2},{"p":"ba","s":"s","x":177,"y":6.0},{"p":"ba","s":"s","x":180,"y":5.8},{"p":"ba","s":"s","x":183,"y":5.7},{"p":"ba","s":"s","x":187,"y":5.6},{"p":"ba","s":"s","x":191,"y":5.7},{"p":"ba","s":"s","x":194,"y":5.6},{"p":"ba","s":"s","x":197,"y":5.4},{"p":"ba","s":"s","x":201,"y":5.4},{"p":"ba","s":"s","x":204,"y":5.5},{"p":"ba","s":"s","x":207,"y":5.6},{"p":"ba","s":"s","x":211,"y":5.3},{"p":"ba","s":"s","x":214,"y":5.1},{"p":"ba","s":"s","x":217,"y":4.8},{"p":"ba","s":"s","x":221,"y":5.1},{"p":"ba","s":"s","x":224,"y":4.6},{"p":"ba","s":"s","x":227,"y":4.5},{"p":"ba","s":"s","x":230,"y":4.2},{"p":"ba","s":"s","x":233,"y":3.9},{"p":"ba","s":"s","x":236,"y":3.8},{"p":"ba","s":"s","x":238,"y":3.4},{"p":"ba","s":"s","x":241,"y":3.1},{"p":"ba","s":"s","x":243,"y":2.9},
{"p":"ma","s":"s","x":21,"y":14.9},{"p":"ma","s":"s","x":24,"y":14.5},{"p":"ma","s":"s","x":27,"y":14.0},{"p":"ma","s":"s","x":30,"y":14.4},{"p":"ma","s":"s","x":36,"y":15.7},{"p":"ma","s":"s","x":40,"y":16.7},{"p":"ma","s":"s","x":43,"y":17.1},{"p":"ma","s":"s","x":46,"y":17.5},{"p":"ma","s":"s","x":50,"y":17.8},{"p":"ma","s":"s","x":53,"y":18.0},{"p":"ma","s":"s","x":56,"y":17.8},{"p":"ma","s":"s","x":61,"y":17.1},{"p":"ma","s":"s","x":65,"y":16.5},{"p":"ma","s":"s","x":67,"y":15.5},{"p":"ma","s":"s","x":71,"y":15.9},{"p":"ma","s":"s","x":74,"y":16.0},{"p":"ma","s":"s","x":78,"y":16.1},{"p":"ma","s":"s","x":81,"y":16.2},{"p":"ma","s":"s","x":84,"y":16.2},{"p":"ma","s":"s","x":88,"y":16.3},{"p":"ma","s":"s","x":91,"y":16.4},{"p":"ma","s":"s","x":94,"y":16.5},{"p":"ma","s":"s","x":98,"y":16.5},{"p":"ma","s":"s","x":101,"y":16.6},{"p":"ma","s":"s","x":104,"y":16.7},{"p":"ma","s":"s","x":108,"y":16.9},{"p":"ma","s":"s","x":111,"y":17.1},{"p":"ma","s":"s","x":114,"y":17.4},{"p":"ma","s":"s","x":118,"y":17.6},{"p":"ma","s":"s","x":121,"y":17.8},{"p":"ma","s":"s","x":124,"y":17.9},{"p":"ma","s":"s","x":128,"y":18.0},{"p":"ma","s":"s","x":131,"y":17.8},{"p":"ma","s":"s","x":134,"y":17.6},{"p":"ma","s":"s","x":137,"y":17.3},{"p":"ma","s":"s","x":140,"y":17.0},{"p":"ma","s":"s","x":143,"y":16.8},{"p":"ma","s":"s","x":146,"y":16.7},{"p":"ma","s":"s","x":150,"y":16.1},{"p":"ma","s":"s","x":153,"y":16.0},{"p":"ma","s":"s","x":157,"y":15.8},{"p":"ma","s":"s","x":160,"y":16.4},{"p":"ma","s":"s","x":164,"y":16.3},{"p":"ma","s":"s","x":168,"y":16.2},{"p":"ma","s":"s","x":172,"y":16.6},{"p":"ma","s":"s","x":175,"y":16.5},{"p":"ma","s":"s","x":179,"y":16.4},{"p":"ma","s":"s","x":182,"y":16.1},{"p":"ma","s":"s","x":184,"y":15.3},{"p":"ma","s":"s","x":188,"y":15.2},{"p":"ma","s":"s","x":191,"y":15.2},{"p":"ma","s":"s","x":196,"y":16.0},{"p":"ma","s":"s","x":200,"y":15.6},{"p":"ma","s":"s","x":204,"y":15.6},{"p":"ma","s":"s","x":207,"y":15.6},{"p":"ma","s":"s","x":210,"y":15.5},{"p":"ma","s":"s","x":214,"y":15.2},{"p":"ma","s":"s","x":216,"y":14.9},{"p":"ma","s":"s","x":219,"y":14.5},{"p":"ma","s":"s","x":222,"y":13.3},{"p":"ma","s":"s","x":225,"y":13.1},{"p":"ma","s":"s","x":229,"y":12.8},{"p":"ma","s":"s","x":232,"y":12.6},{"p":"ma","s":"s","x":235,"y":12.4},{"p":"ma","s":"s","x":239,"y":12.2},{"p":"ma","s":"s","x":242,"y":11.7},{"p":"ma","s":"s","x":245,"y":11.4},
{"p":"ma","s":"s","x":24,"y":8.2},{"p":"ma","s":"s","x":27,"y":7.2},{"p":"ma","s":"s","x":30,"y":6.6},{"p":"ma","s":"s","x":33,"y":7.4},{"p":"ma","s":"s","x":36,"y":8.2},{"p":"ma","s":"s","x":40,"y":8.8},{"p":"ma","s":"s","x":43,"y":9.3},{"p":"ma","s":"s","x":46,"y":9.6},{"p":"ma","s":"s","x":50,"y":9.6},{"p":"ma","s":"s","x":53,"y":9.4},{"p":"ma","s":"s","x":56,"y":9.0},{"p":"ma","s":"s","x":61,"y":8.2},{"p":"ma","s":"s","x":65,"y":7.8},{"p":"ma","s":"s","x":67,"y":6.0},{"p":"ma","s":"s","x":70,"y":5.9},{"p":"ma","s":"s","x":74,"y":7.5},{"p":"ma","s":"s","x":78,"y":7.7},{"p":"ma","s":"s","x":81,"y":7.8},{"p":"ma","s":"s","x":84,"y":8.0},{"p":"ma","s":"s","x":88,"y":8.2},{"p":"ma","s":"s","x":91,"y":8.3},{"p":"ma","s":"s","x":94,"y":8.4},{"p":"ma","s":"s","x":98,"y":8.4},{"p":"ma","s":"s","x":101,"y":8.5},{"p":"ma","s":"s","x":104,"y":8.5},{"p":"ma","s":"s","x":108,"y":8.7},{"p":"ma","s":"s","x":111,"y":8.9},{"p":"ma","s":"s","x":114,"y":9.1},{"p":"ma","s":"s","x":118,"y":9.4},{"p":"ma","s":"s","x":121,"y":9.6},{"p":"ma","s":"s","x":124,"y":9.7},{"p":"ma","s":"s","x":128,"y":9.6},{"p":"ma","s":"s","x":130,"y":9.4},{"p":"ma","s":"s","x":134,"y":9.0},{"p":"ma","s":"s","x":136,"y":8.4},{"p":"ma","s":"s","x":140,"y":8.2},{"p":"ma","s":"s","x":143,"y":8.0},{"p":"ma","s":"s","x":146,"y":7.8},{"p":"ma","s":"s","x":150,"y":7.7},{"p":"ma","s":"s","x":153,"y":7.6},{"p":"ma","s":"s","x":156,"y":7.4},{"p":"ma","s":"s","x":160,"y":7.3},{"p":"ma","s":"s","x":164,"y":7.1},{"p":"ma","s":"s","x":168,"y":7.8},{"p":"ma","s":"s","x":171,"y":7.6},{"p":"ma","s":"s","x":174,"y":7.4},{"p":"ma","s":"s","x":178,"y":7.1},{"p":"ma","s":"s","x":181,"y":6.9},{"p":"ma","s":"s","x":184,"y":6.8},{"p":"ma","s":"s","x":188,"y":6.6},{"p":"ma","s":"s","x":195,"y":6.3},{"p":"ma","s":"s","x":199,"y":6.1},{"p":"ma","s":"s","x":202,"y":6.0},{"p":"ma","s":"s","x":205,"y":5.8},{"p":"ma","s":"s","x":209,"y":5.7},{"p":"ma","s":"s","x":212,"y":5.5},{"p":"ma","s":"s","x":215,"y":5.3},{"p":"ma","s":"s","x":219,"y":5.1},{"p":"ma","s":"s","x":222,"y":5.1},{"p":"ma","s":"s","x":225,"y":4.6},{"p":"ma","s":"s","x":229,"y":3.9},{"p":"ma","s":"s","x":232,"y":3.4},{"p":"ma","s":"s","x":235,"y":2.7},{"p":"ma","s":"s","x":239,"y":2.3},{"p":"ma","s":"s","x":240,"y":2.3},
{"p":"mu(k)","s":"s","x":22,"y":15.3},{"p":"mu(k)","s":"s","x":24,"y":14.6},{"p":"mu(k)","s":"s","x":28,"y":14.7},{"p":"mu(k)","s":"s","x":31,"y":14.9},{"p":"mu(k)","s":"s","x":34,"y":15.4},{"p":"mu(k)","s":"s","x":38,"y":16.0},{"p":"mu(k)","s":"s","x":41,"y":16.4},{"p":"mu(k)","s":"s","x":44,"y":16.9},{"p":"mu(k)","s":"s","x":48,"y":17.2},{"p":"mu(k)","s":"s","x":51,"y":17.4},{"p":"mu(k)","s":"s","x":54,"y":17.4},{"p":"mu(k)","s":"s","x":58,"y":17.2},{"p":"mu(k)","s":"s","x":61,"y":16.8},{"p":"mu(k)","s":"s","x":64,"y":16.4},{"p":"mu(k)","s":"s","x":68,"y":16.0},{"p":"mu(k)","s":"s","x":71,"y":15.9},{"p":"mu(k)","s":"s","x":74,"y":16.0},{"p":"mu(k)","s":"s","x":78,"y":16.1},{"p":"mu(k)","s":"s","x":81,"y":16.2},{"p":"mu(k)","s":"s","x":84,"y":16.3},{"p":"mu(k)","s":"s","x":88,"y":16.5},{"p":"mu(k)","s":"s","x":91,"y":16.6},{"p":"mu(k)","s":"s","x":94,"y":16.8},{"p":"mu(k)","s":"s","x":98,"y":16.8},{"p":"mu(k)","s":"s","x":101,"y":16.8},{"p":"mu(k)","s":"s","x":104,"y":16.8},{"p":"mu(k)","s":"s","x":107,"y":16.8},{"p":"mu(k)","s":"s","x":124,"y":18.7},{"p":"mu(k)","s":"s","x":128,"y":18.0},{"p":"mu(k)","s":"s","x":131,"y":17.7},{"p":"mu(k)","s":"s","x":134,"y":17.2},{"p":"mu(k)","s":"s","x":138,"y":16.6},{"p":"mu(k)","s":"s","x":141,"y":16.3},{"p":"mu(k)","s":"s","x":144,"y":16.1},{"p":"mu(k)","s":"s","x":148,"y":15.9},{"p":"mu(k)","s":"s","x":150,"y":15.7},{"p":"mu(k)","s":"s","x":153,"y":16.2},{"p":"mu(k)","s":"s","x":156,"y":16.1},{"p":"mu(k)","s":"s","x":159,"y":16.0},{"p":"mu(k)","s":"s","x":163,"y":15.9},{"p":"mu(k)","s":"s","x":166,"y":15.8},{"p":"mu(k)","s":"s","x":169,"y":15.7},{"p":"mu(k)","s":"s","x":173,"y":15.5},{"p":"mu(k)","s":"s","x":176,"y":15.4},{"p":"mu(k)","s":"s","x":179,"y":15.4},{"p":"mu(k)","s":"s","x":182,"y":15.3},{"p":"mu(k)","s":"s","x":184,"y":14.5},{"p":"mu(k)","s":"s","x":187,"y":14.7},{"p":"mu(k)","s":"s","x":191,"y":15.5},{"p":"mu(k)","s":"s","x":194,"y":15.6},{"p":"mu(k)","s":"s","x":198,"y":15.5},{"p":"mu(k)","s":"s","x":201,"y":15.3},{"p":"mu(k)","s":"s","x":204,"y":15.2},{"p":"mu(k)","s":"s","x":208,"y":15.1},{"p":"mu(k)","s":"s","x":211,"y":14.9},{"p":"mu(k)","s":"s","x":214,"y":14.8},{"p":"mu(k)","s":"s","x":218,"y":14.3},{"p":"mu(k)","s":"s","x":221,"y":13.7},{"p":"mu(k)","s":"s","x":224,"y":13.4},{"p":"mu(k)","s":"s","x":228,"y":13.1},{"p":"mu(k)","s":"s","x":231,"y":12.6},{"p":"mu(k)","s":"s","x":234,"y":12.4},{"p":"mu(k)","s":"s","x":238,"y":12.1},{"p":"mu(k)","s":"s","x":241,"y":11.9},{"p":"mu(k)","s":"s","x":244,"y":11.8},{"p":"mu(k)","s":"s","x":248,"y":11.9},{"p":"mu(k)","s":"s","x":252,"y":12.4},{"p":"mu(k)","s":"s","x":257,"y":12.0},
{"p":"mu(k)","s":"s","x":19,"y":5.1},{"p":"mu(k)","s":"s","x":21,"y":4.7},{"p":"mu(k)","s":"s","x":24,"y":3.4},{"p":"mu(k)","s":"s","x":28,"y":4.0},{"p":"mu(k)","s":"s","x":31,"y":4.3},{"p":"mu(k)","s":"s","x":34,"y":4.8},{"p":"mu(k)","s":"s","x":38,"y":5.4},{"p":"mu(k)","s":"s","x":41,"y":5.8},{"p":"mu(k)","s":"s","x":44,"y":6.2},{"p":"mu(k)","s":"s","x":48,"y":6.6},{"p":"mu(k)","s":"s","x":51,"y":6.7},{"p":"mu(k)","s":"s","x":54,"y":6.6},{"p":"mu(k)","s":"s","x":58,"y":6.3},{"p":"mu(k)","s":"s","x":61,"y":6.0},{"p":"mu(k)","s":"s","x":64,"y":5.5},{"p":"mu(k)","s":"s","x":68,"y":5.3},{"p":"mu(k)","s":"s","x":71,"y":5.1},{"p":"mu(k)","s":"s","x":74,"y":5.1},{"p":"mu(k)","s":"s","x":78,"y":5.3},{"p":"mu(k)","s":"s","x":81,"y":5.5},{"p":"mu(k)","s":"s","x":84,"y":5.7},{"p":"mu(k)","s":"s","x":88,"y":5.8},{"p":"mu(k)","s":"s","x":91,"y":5.8},{"p":"mu(k)","s":"s","x":94,"y":5.7},{"p":"mu(k)","s":"s","x":98,"y":5.6},{"p":"mu(k)","s":"s","x":101,"y":5.4},{"p":"mu(k)","s":"s","x":104,"y":5.3},{"p":"mu(k)","s":"s","x":107,"y":5.2},{"p":"mu(k)","s":"s","x":124,"y":7.5},{"p":"mu(k)","s":"s","x":128,"y":7.5},{"p":"mu(k)","s":"s","x":131,"y":7.2},{"p":"mu(k)","s":"s","x":134,"y":6.8},{"p":"mu(k)","s":"s","x":138,"y":6.3},{"p":"mu(k)","s":"s","x":141,"y":5.8},{"p":"mu(k)","s":"s","x":144,"y":5.2},{"p":"mu(k)","s":"s","x":148,"y":5.1},{"p":"mu(k)","s":"s","x":150,"y":5.3},{"p":"mu(k)","s":"s","x":153,"y":5.7},{"p":"mu(k)","s":"s","x":156,"y":5.7},{"p":"mu(k)","s":"s","x":159,"y":5.8},{"p":"mu(k)","s":"s","x":163,"y":5.8},{"p":"mu(k)","s":"s","x":166,"y":5.7},{"p":"mu(k)","s":"s","x":169,"y":5.7},{"p":"mu(k)","s":"s","x":173,"y":5.5},{"p":"mu(k)","s":"s","x":176,"y":5.3},{"p":"mu(k)","s":"s","x":179,"y":5.1},{"p":"mu(k)","s":"s","x":183,"y":4.8},{"p":"mu(k)","s":"s","x":186,"y":4.7},{"p":"mu(k)","s":"s","x":189,"y":4.7},{"p":"mu(k)","s":"s","x":193,"y":4.7},{"p":"mu(k)","s":"s","x":196,"y":4.7},{"p":"mu(k)","s":"s","x":199,"y":4.7},{"p":"mu(k)","s":"s","x":203,"y":4.6},{"p":"mu(k)","s":"s","x":206,"y":4.6},{"p":"mu(k)","s":"s","x":209,"y":4.3},{"p":"mu(k)","s":"s","x":213,"y":4.1},{"p":"mu(k)","s":"s","x":215,"y":4.0},{"p":"mu(k)","s":"s","x":219,"y":2.3},{"p":"mu(k)","s":"s","x":222,"y":3.1},{"p":"mu(k)","s":"s","x":225,"y":2.9},{"p":"mu(k)","s":"s","x":229,"y":2.6},{"p":"mu(k)","s":"s","x":232,"y":2.1},{"p":"mu(k)","s":"s","x":234,"y":1.7},{"p":"mu(k)","s":"s","x":237,"y":1.1},{"p":"mu(k)","s":"s","x":241,"y":0.6},{"p":"mu(k)","s":"s","x":244,"y":1.6},{"p":"mu(k)","s":"s","x":248,"y":0.7},
{"p":"mu(r:)","s":"s","x":18,"y":15.5},{"p":"mu(r:)","s":"s","x":21,"y":14.2},{"p":"mu(r:)","s":"s","x":25,"y":14.0},{"p":"mu(r:)","s":"s","x":28,"y":14.3},{"p":"mu(r:)","s":"s","x":31,"y":14.7},{"p":"mu(r:)","s":"s","x":35,"y":15.2},{"p":"mu(r:)","s":"s","x":38,"y":15.7},{"p":"mu(r:)","s":"s","x":41,"y":16.7},{"p":"mu(r:)","s":"s","x":44,"y":17.4},{"p":"mu(r:)","s":"s","x":47,"y":17.8},{"p":"mu(r:)","s":"s","x":50,"y":18.1},{"p":"mu(r:)","s":"s","x":53,"y":18.3},{"p":"mu(r:)","s":"s","x":57,"y":18.2},{"p":"mu(r:)","s":"s","x":60,"y":17.8},{"p":"mu(r:)","s":"s","x":62,"y":17.4},{"p":"mu(r:)","s":"s","x":65,"y":16.6},{"p":"mu(r:)","s":"s","x":68,"y":15.9},{"p":"mu(r:)","s":"s","x":71,"y":16.1},{"p":"mu(r:)","s":"s","x":75,"y":16.2},{"p":"mu(r:)","s":"s","x":78,"y":16.3},{"p":"mu(r:)","s":"s","x":81,"y":16.4},{"p":"mu(r:)","s":"s","x":85,"y":16.5},{"p":"mu(r:)","s":"s","x":88,"y":16.6},{"p":"mu(r:)","s":"s","x":91,"y":16.8},{"p":"mu(r:)","s":"s","x":95,"y":16.9},{"p":"mu(r:)","s":"s","x":98,"y":16.9},{"p":"mu(r:)","s":"s","x":101,"y":16.9},{"p":"mu(r:)","s":"s","x":105,"y":17.0},{"p":"mu(r:)","s":"s","x":109,"y":17.1},{"p":"mu(r:)","s":"s","x":112,"y":17.1},{"p":"mu(r:)","s":"s","x":118,"y":17.5},{"p":"mu(r:)","s":"s","x":121,"y":17.6},{"p":"mu(r:)","s":"s","x":125,"y":17.7},{"p":"mu(r:)","s":"s","x":128,"y":17.8},{"p":"mu(r:)","s":"s","x":131,"y":17.8},{"p":"mu(r:)","s":"s","x":134,"y":17.6},{"p":"mu(r:)","s":"s","x":137,"y":17.2},{"p":"mu(r:)","s":"s","x":141,"y":16.9},{"p":"mu(r:)","s":"s","x":144,"y":16.7},{"p":"mu(r:)","s":"s","x":147,"y":16.5},{"p":"mu(r:)","s":"s","x":149,"y":15.7},{"p":"mu(r:)","s":"s","x":152,"y":15.5},{"p":"mu(r:)","s":"s","x":156,"y":15.4},{"p":"mu(r:)","s":"s","x":159,"y":16.8},{"p":"mu(r:)","s":"s","x":162,"y":16.7},{"p":"mu(r:)","s":"s","x":166,"y":16.7},{"p":"mu(r:)","s":"s","x":169,"y":16.6},{"p":"mu(r:)","s":"s","x":172,"y":16.5},{"p":"mu(r:)","s":"s","x":176,"y":16.3},{"p":"mu(r:)","s":"s","x":180,"y":16.5},{"p":"mu(r:)","s":"s","x":184,"y":16.5},{"p":"mu(r:)","s":"s","x":187,"y":16.5},{"p":"mu(r:)","s":"s","x":191,"y":16.5},{"p":"mu(r:)","s":"s","x":194,"y":15.8},{"p":"mu(r:)","s":"s","x":197,"y":15.8},{"p":"mu(r:)","s":"s","x":201,"y":15.8},{"p":"mu(r:)","s":"s","x":204,"y":15.7},{"p":"mu(r:)","s":"s","x":207,"y":15.6},{"p":"mu(r:)","s":"s","x":211,"y":15.5},{"p":"mu(r:)","s":"s","x":214,"y":15.0},{"p":"mu(r:)","s":"s","x":218,"y":14.1},{"p":"mu(r:)","s":"s","x":221,"y":15.1},{"p":"mu(r:)","s":"s","x":224,"y":13.5},{"p":"mu(r:)","s":"s","x":227,"y":12.9},{"p":"mu(r:)","s":"s","x":231,"y":12.5},{"p":"mu(r:)","s":"s","x":234,"y":12.2},{"p":"mu(r:)","s":"s","x":237,"y":12.0},{"p":"mu(r:)","s":"s","x":241,"y":11.7},{"p":"mu(r:)","s":"s","x":244,"y":11.8},{"p":"mu(r:)","s":"s","x":247,"y":11.9},{"p":"mu(r:)","s":"s","x":251,"y":11.8},
{"p":"mu(r:)","s":"s","x":31,"y":5.1},{"p":"mu(r:)","s":"s","x":33,"y":5.8},{"p":"mu(r:)","s":"s","x":37,"y":6.6},{"p":"mu(r:)","s":"s","x":40,"y":7.3},{"p":"mu(r:)","s":"s","x":43,"y":7.8},{"p":"mu(r:)","s":"s","x":47,"y":8.2},{"p":"mu(r:)","s":"s","x":50,"y":8.3},{"p":"mu(r:)","s":"s","x":53,"y":8.2},{"p":"mu(r:)","s":"s","x":57,"y":7.9},{"p":"mu(r:)","s":"s","x":60,"y":7.4},{"p":"mu(r:)","s":"s","x":63,"y":6.9},{"p":"mu(r:)","s":"s","x":67,"y":6.1},{"p":"mu(r:)","s":"s","x":70,"y":5.9},{"p":"mu(r:)","s":"s","x":73,"y":5.8},{"p":"mu(r:)","s":"s","x":77,"y":5.7},{"p":"mu(r:)","s":"s","x":80,"y":5.7},{"p":"mu(r:)","s":"s","x":83,"y":5.8},{"p":"mu(r:)","s":"s","x":87,"y":5.9},{"p":"mu(r:)","s":"s","x":112,"y":6.3},{"p":"mu(r:)","s":"s","x":116,"y":7.1},{"p":"mu(r:)","s":"s","x":119,"y":7.6},{"p":"mu(r:)","s":"s","x":122,"y":7.8},{"p":"mu(r:)","s":"s","x":126,"y":8.1},{"p":"mu(r:)","s":"s","x":129,"y":8.2},{"p":"mu(r:)","s":"s","x":131,"y":8.1},{"p":"mu(r:)","s":"s","x":134,"y":7.8},{"p":"mu(r:)","s":"s","x":137,"y":6.9},{"p":"mu(r:)","s":"s","x":140,"y":5.8},{"p":"mu(r:)","s":"s","x":143,"y":5.1},{"p":"mu(r:)","s":"s","x":147,"y":4.8},{"p":"mu(r:)","s":"s","x":150,"y":4.7},{"p":"mu(r:)","s":"s","x":153,"y":4.9},{"p":"mu(r:)","s":"s","x":157,"y":5.1},{"p":"mu(r:)","s":"s","x":160,"y":5.4},{"p":"mu(r:)","s":"s","x":163,"y":5.6},{"p":"mu(r:)","s":"s","x":167,"y":5.8},{"p":"mu(r:)","s":"s","x":170,"y":5.8},{"p":"mu(r:)","s":"s","x":173,"y":5.8},{"p":"mu(r:)","s":"s","x":176,"y":5.7},{"p":"mu(r:)","s":"s","x":197,"y":5.7},{"p":"mu(r:)","s":"s","x":200,"y":6.0},{"p":"mu(r:)","s":"s","x":203,"y":6.0},{"p":"mu(r:)","s":"s","x":207,"y":5.8},{"p":"mu(r:)","s":"s","x":210,"y":5.7},{"p":"mu(r:)","s":"s","x":213,"y":5.5},{"p":"mu(r:)","s":"s","x":217,"y":5.1},{"p":"mu(r:)","s":"s","x":219,"y":4.6},{"p":"mu(r:)","s":"s","x":222,"y":3.8},
{"p":"sa","s":"s","x":18,"y":15.0},{"p":"sa","s":"s","x":22,"y":14.4},{"p":"sa","s":"s","x":25,"y":13.9},{"p":"sa","s":"s","x":28,"y":14.0},{"p":"sa","s":"s","x":32,"y":14.5},{"p":"sa","s":"s","x":35,"y":15.1},{"p":"sa","s":"s","x":38,"y":15.9},{"p":"sa","s":"s","x":42,"y":16.7},{"p":"sa","s":"s","x":45,"y":17.3},{"p":"sa","s":"s","x":48,"y":18.2},{"p":"sa","s":"s","x":52,"y":18.7},{"p":"sa","s":"s","x":55,"y":19.1},{"p":"sa","s":"s","x":58,"y":18.9},{"p":"sa","s":"s","x":62,"y":18.4},{"p":"sa","s":"s","x":66,"y":17.7},{"p":"sa","s":"s","x":68,"y":16.9},{"p":"sa","s":"s","x":95,"y":18.2},{"p":"sa","s":"s","x":97,"y":17.5},{"p":"sa","s":"s","x":100,"y":17.0},{"p":"sa","s":"s","x":103,"y":16.6},{"p":"sa","s":"s","x":106,"y":16.3},{"p":"sa","s":"s","x":108,"y":16.1},{"p":"sa","s":"s","x":112,"y":16.0},{"p":"sa","s":"s","x":115,"y":16.7},{"p":"sa","s":"s","x":118,"y":17.0},{"p":"sa","s":"s","x":122,"y":17.3},{"p":"sa","s":"s","x":125,"y":17.5},{"p":"sa","s":"s","x":128,"y":17.7},{"p":"sa","s":"s","x":132,"y":17.6},{"p":"sa","s":"s","x":135,"y":17.4},{"p":"sa","s":"s","x":138,"y":17.2},{"p":"sa","s":"s","x":142,"y":16.9},{"p":"sa","s":"s","x":145,"y":16.6},{"p":"sa","s":"s","x":148,"y":16.5},{"p":"sa","s":"s","x":150,"y":16.9},{"p":"sa","s":"s","x":153,"y":16.9},{"p":"sa","s":"s","x":157,"y":16.9},{"p":"sa","s":"s","x":160,"y":16.9},{"p":"sa","s":"s","x":163,"y":16.9},{"p":"sa","s":"s","x":167,"y":16.9},{"p":"sa","s":"s","x":170,"y":16.8},{"p":"sa","s":"s","x":173,"y":16.7},{"p":"sa","s":"s","x":177,"y":16.5},{"p":"sa","s":"s","x":180,"y":16.3},{"p":"sa","s":"s","x":183,"y":16.5},{"p":"sa","s":"s","x":187,"y":16.6},{"p":"sa","s":"s","x":190,"y":16.6},{"p":"sa","s":"s","x":193,"y":16.6},{"p":"sa","s":"s","x":197,"y":16.6},{"p":"sa","s":"s","x":200,"y":15.8},{"p":"sa","s":"s","x":203,"y":15.6},{"p":"sa","s":"s","x":207,"y":15.4},{"p":"sa","s":"s","x":210,"y":15.3},{"p":"sa","s":"s","x":213,"y":15.2},{"p":"sa","s":"s","x":217,"y":14.9},{"p":"sa","s":"s","x":220,"y":14.2},{"p":"sa","s":"s","x":223,"y":14.0},{"p":"sa","s":"s","x":227,"y":13.6},{"p":"sa","s":"s","x":230,"y":13.1},{"p":"sa","s":"s","x":233,"y":12.9},{"p":"sa","s":"s","x":237,"y":12.8},{"p":"sa","s":"s","x":240,"y":12.5},{"p":"sa","s":"s","x":243,"y":12.4},{"p":"sa","s":"s","x":247,"y":12.2},{"p":"sa","s":"s","x":250,"y":12.1},{"p":"sa","s":"s","x":253,"y":11.9},{"p":"sa","s":"s","x":255,"y":11.9},
{"p":"sa","s":"s","x":28,"y":4.4},{"p":"sa","s":"s","x":32,"y":3.9},{"p":"sa","s":"s","x":35,"y":4.8},{"p":"sa","s":"s","x":38,"y":5.1},{"p":"sa","s":"s","x":42,"y":5.8},{"p":"sa","s":"s","x":45,"y":6.4},{"p":"sa","s":"s","x":48,"y":6.9},{"p":"sa","s":"s","x":52,"y":7.2},{"p":"sa","s":"s","x":55,"y":7.4},{"p":"sa","s":"s","x":58,"y":7.4},{"p":"sa","s":"s","x":62,"y":7.3},{"p":"sa","s":"s","x":65,"y":7.1},{"p":"sa","s":"s","x":68,"y":7.1},{"p":"sa","s":"s","x":93,"y":6.3},{"p":"sa","s":"s","x":97,"y":6.0},{"p":"sa","s":"s","x":100,"y":5.8},{"p":"sa","s":"s","x":103,"y":5.7},{"p":"sa","s":"s","x":107,"y":5.5},{"p":"sa","s":"s","x":110,"y":5.5},{"p":"sa","s":"s","x":113,"y":5.9},{"p":"sa","s":"s","x":117,"y":5.4},{"p":"sa","s":"s","x":119,"y":7.1},{"p":"sa","s":"s","x":123,"y":7.5},{"p":"sa","s":"s","x":126,"y":7.6},{"p":"sa","s":"s","x":129,"y":7.5},{"p":"sa","s":"s","x":133,"y":7.4},{"p":"sa","s":"s","x":135,"y":7.1},{"p":"sa","s":"s","x":138,"y":6.3},{"p":"sa","s":"s","x":142,"y":6.3},{"p":"sa","s":"s","x":145,"y":6.1},{"p":"sa","s":"s","x":148,"y":5.9},{"p":"sa","s":"s","x":152,"y":5.8},{"p":"sa","s":"s","x":155,"y":5.6},{"p":"sa","s":"s","x":158,"y":5.5},{"p":"sa","s":"s","x":162,"y":5.3},{"p":"sa","s":"s","x":165,"y":5.2},{"p":"sa","s":"s","x":168,"y":5.1},{"p":"sa","s":"s","x":172,"y":5.0},{"p":"sa","s":"s","x":175,"y":4.8},{"p":"sa","s":"s","x":178,"y":4.7},{"p":"sa","s":"s","x":182,"y":4.4},{"p":"sa","s":"s","x":185,"y":4.3},{"p":"sa","s":"s","x":188,"y":4.2},{"p":"sa","s":"s","x":192,"y":4.1},{"p":"sa","s":"s","x":195,"y":4.1},{"p":"sa","s":"s","x":198,"y":4.2},{"p":"sa","s":"s","x":202,"y":4.3},{"p":"sa","s":"s","x":205,"y":4.2},{"p":"sa","s":"s","x":208,"y":3.9},{"p":"sa","s":"s","x":212,"y":3.5},{"p":"sa","s":"s","x":215,"y":3.2},{"p":"sa","s":"s","x":218,"y":2.9},{"p":"sa","s":"s","x":222,"y":2.5},{"p":"sa","s":"s","x":225,"y":2.4},{"p":"sa","s":"s","x":228,"y":2.0},{"p":"sa","s":"s","x":232,"y":1.8},{"p":"sa","s":"s","x":235,"y":1.6},{"p":"sa","s":"s","x":238,"y":1.5},{"p":"sa","s":"s","x":241,"y":0.9},{"p":"sa","s":"s","x":243,"y":1.0},{"p":"sa","s":"s","x":247,"y":1.1},
{"p":"si","s":"s","x":24,"y":14.7},{"p":"si","s":"s","x":27,"y":14.9},{"p":"si","s":"s","x":30,"y":14.9},{"p":"si","s":"s","x":34,"y":15.3},{"p":"si","s":"s","x":37,"y":15.8},{"p":"si","s":"s","x":40,"y":16.5},{"p":"si","s":"s","x":44,"y":17.3},{"p":"si","s":"s","x":47,"y":17.8},{"p":"si","s":"s","x":50,"y":18.4},{"p":"si","s":"s","x":54,"y":18.8},{"p":"si","s":"s","x":57,"y":18.9},{"p":"si","s":"s","x":60,"y":18.7},{"p":"si","s":"s","x":64,"y":18.1},{"p":"si","s":"s","x":67,"y":17.4},{"p":"si","s":"s","x":70,"y":17.2},{"p":"si","s":"s","x":93,"y":18.0},{"p":"si","s":"s","x":95,"y":17.5},{"p":"si","s":"s","x":99,"y":17.0},{"p":"si","s":"s","x":101,"y":16.7},{"p":"si","s":"s","x":104,"y":16.6},{"p":"si","s":"s","x":108,"y":16.5},{"p":"si","s":"s","x":111,"y":16.7},{"p":"si","s":"s","x":114,"y":16.9},{"p":"si","s":"s","x":118,"y":17.2},{"p":"si","s":"s","x":121,"y":17.3},{"p":"si","s":"s","x":124,"y":17.4},{"p":"si","s":"s","x":128,"y":17.4},{"p":"si","s":"s","x":131,"y":17.3},{"p":"si","s":"s","x":134,"y":17.1},{"p":"si","s":"s","x":138,"y":16.9},{"p":"si","s":"s","x":140,"y":16.8},{"p":"si","s":"s","x":143,"y":17.2},{"p":"si","s":"s","x":146,"y":16.3},{"p":"si","s":"s","x":150,"y":16.2},{"p":"si","s":"s","x":153,"y":16.0},{"p":"si","s":"s","x":156,"y":17.3},{"p":"si","s":"s","x":160,"y":17.2},{"p":"si","s":"s","x":163,"y":17.1},{"p":"si","s":"s","x":166,"y":17.0},{"p":"si","s":"s","x":170,"y":16.8},{"p":"si","s":"s","x":173,"y":16.4},{"p":"si","s":"s","x":176,"y":16.2},{"p":"si","s":"s","x":180,"y":16.2},{"p":"si","s":"s","x":183,"y":16.6},{"p":"si","s":"s","x":186,"y":16.2},{"p":"si","s":"s","x":190,"y":16.1},{"p":"si","s":"s","x":193,"y":16.2},{"p":"si","s":"s","x":196,"y":16.2},{"p":"si","s":"s","x":200,"y":16.1},{"p":"si","s":"s","x":203,"y":15.8},{"p":"si","s":"s","x":206,"y":15.7},{"p":"si","s":"s","x":210,"y":15.6},{"p":"si","s":"s","x":213,"y":15.5},{"p":"si","s":"s","x":216,"y":15.1},{"p":"si","s":"s","x":220,"y":14.5},{"p":"si","s":"s","x":223,"y":14.1},{"p":"si","s":"s","x":226,"y":13.5},{"p":"si","s":"s","x":230,"y":13.3},{"p":"si","s":"s","x":233,"y":13.0},{"p":"si","s":"s","x":236,"y":12.8},{"p":"si","s":"s","x":240,"y":12.5},{"p":"si","s":"s","x":243,"y":12.5},{"p":"si","s":"s","x":246,"y":13.6},{"p":"si","s":"s","x":250,"y":12.4},
{"p":"si","s":"s","x":23,"y":4.1},{"p":"si","s":"s","x":26,"y":4.8},{"p":"si","s":"s","x":30,"y":4.4},{"p":"si","s":"s","x":33,"y":5.4},{"p":"si","s":"s","x":36,"y":6.1},{"p":"si","s":"s","x":40,"y":6.7},{"p":"si","s":"s","x":43,"y":7.2},{"p":"si","s":"s","x":46,"y":7.7},{"p":"si","s":"s","x":50,"y":8.0},{"p":"si","s":"s","x":53,"y":8.1},{"p":"si","s":"s","x":56,"y":8.1},{"p":"si","s":"s","x":60,"y":7.9},{"p":"si","s":"s","x":63,"y":7.5},{"p":"si","s":"s","x":65,"y":7.4},{"p":"si","s":"s","x":67,"y":6.5},{"p":"si","s":"s","x":70,"y":4.6},{"p":"si","s":"s","x":92,"y":7.2},{"p":"si","s":"s","x":95,"y":7.1},{"p":"si","s":"s","x":99,"y":6.9},{"p":"si","s":"s","x":102,"y":6.9},{"p":"si","s":"s","x":105,"y":7.1},{"p":"si","s":"s","x":109,"y":7.5},{"p":"si","s":"s","x":112,"y":7.7},{"p":"si","s":"s","x":115,"y":7.9},{"p":"si","s":"s","x":119,"y":8.0},{"p":"si","s":"s","x":122,"y":8.1},{"p":"si","s":"s","x":125,"y":8.1},{"p":"si","s":"s","x":129,"y":8.0},{"p":"si","s":"s","x":132,"y":7.7},{"p":"si","s":"s","x":135,"y":7.4},{"p":"si","s":"s","x":139,"y":7.1},{"p":"si","s":"s","x":142,"y":6.9},{"p":"si","s":"s","x":145,"y":6.8},{"p":"si","s":"s","x":149,"y":6.8},{"p":"si","s":"s","x":152,"y":6.7},{"p":"si","s":"s","x":155,"y":6.7},{"p":"si","s":"s","x":159,"y":6.6},{"p":"si","s":"s","x":162,"y":7.0},{"p":"si","s":"s","x":165,"y":6.8},{"p":"si","s":"s","x":169,"y":6.5},{"p":"si","s":"s","x":172,"y":6.3},{"p":"si","s":"s","x":175,"y":6.3},{"p":"si","s":"s","x":179,"y":6.1},{"p":"si","s":"s","x":182,"y":5.6},{"p":"si","s":"s","x":185,"y":5.5},{"p":"si","s":"s","x":189,"y":5.5},{"p":"si","s":"s","x":192,"y":5.5},{"p":"si","s":"s","x":195,"y":5.5},{"p":"si","s":"s","x":199,"y":5.5},{"p":"si","s":"s","x":202,"y":5.6},{"p":"si","s":"s","x":205,"y":5.7},{"p":"si","s":"s","x":209,"y":5.4},{"p":"si","s":"s","x":212,"y":5.3},{"p":"si","s":"s","x":215,"y":5.9},{"p":"si","s":"s","x":219,"y":5.1},{"p":"si","s":"s","x":222,"y":4.8},{"p":"si","s":"s","x":224,"y":3.0},{"p":"si","s":"s","x":228,"y":3.1},{"p":"si","s":"s","x":231,"y":2.9},{"p":"si","s":"s","x":234,"y":2.9},{"p":"si","s":"s","x":238,"y":2.8},{"p":"si","s":"s","x":240,"y":1.6},{"p":"si","s":"s","x":244,"y":1.5},
{"p":"su","s":"s","x":18,"y":16.5},{"p":"su","s":"s","x":21,"y":14.4},{"p":"su","s":"s","x":24,"y":13.8},{"p":"su","s":"s","x":28,"y":14.0},{"p":"su","s":"s","x":31,"y":14.7},{"p":"su","s":"s","x":34,"y":15.5},{"p":"su","s":"s","x":38,"y":16.2},{"p":"su","s":"s","x":41,"y":16.9},{"p":"su","s":"s","x":44,"y":17.5},{"p":"su","s":"s","x":48,"y":17.9},{"p":"su","s":"s","x":51,"y":18.1},{"p":"su","s":"s","x":54,"y":18.2},{"p":"su","s":"s","x":58,"y":18.0},{"p":"su","s":"s","x":61,"y":17.8},{"p":"su","s":"s","x":64,"y":16.8},{"p":"su","s":"s","x":68,"y":15.9},{"p":"su","s":"s","x":93,"y":18.1},{"p":"su","s":"s","x":96,"y":17.9},{"p":"su","s":"s","x":99,"y":17.6},{"p":"su","s":"s","x":103,"y":17.5},{"p":"su","s":"s","x":106,"y":17.5},{"p":"su","s":"s","x":109,"y":17.6},{"p":"su","s":"s","x":113,"y":17.7},{"p":"su","s":"s","x":116,"y":17.9},{"p":"su","s":"s","x":119,"y":18.0},{"p":"su","s":"s","x":123,"y":18.1},{"p":"su","s":"s","x":126,"y":18.1},{"p":"su","s":"s","x":129,"y":18.1},{"p":"su","s":"s","x":133,"y":17.9},{"p":"su","s":"s","x":136,"y":17.5},{"p":"su","s":"s","x":139,"y":17.3},{"p":"su","s":"s","x":143,"y":17.1},{"p":"su","s":"s","x":146,"y":17.0},{"p":"su","s":"s","x":149,"y":16.8},{"p":"su","s":"s","x":153,"y":16.7},{"p":"su","s":"s","x":156,"y":16.6},{"p":"su","s":"s","x":159,"y":16.6},{"p":"su","s":"s","x":163,"y":16.5},{"p":"su","s":"s","x":166,"y":16.5},{"p":"su","s":"s","x":169,"y":16.4},{"p":"su","s":"s","x":173,"y":16.3},{"p":"su","s":"s","x":176,"y":16.2},{"p":"su","s":"s","x":179,"y":16.0},{"p":"su","s":"s","x":183,"y":15.8},{"p":"su","s":"s","x":186,"y":15.7},{"p":"su","s":"s","x":189,"y":15.6},{"p":"su","s":"s","x":193,"y":15.6},{"p":"su","s":"s","x":196,"y":15.5},{"p":"su","s":"s","x":199,"y":15.5},{"p":"su","s":"s","x":203,"y":15.4},{"p":"su","s":"s","x":206,"y":15.2},{"p":"su","s":"s","x":209,"y":15.1},{"p":"su","s":"s","x":213,"y":14.9},{"p":"su","s":"s","x":216,"y":14.6},{"p":"su","s":"s","x":219,"y":14.2},{"p":"su","s":"s","x":223,"y":13.8},{"p":"su","s":"s","x":226,"y":13.4},{"p":"su","s":"s","x":229,"y":13.1},{"p":"su","s":"s","x":233,"y":12.8},{"p":"su","s":"s","x":236,"y":12.5},{"p":"su","s":"s","x":239,"y":12.3},{"p":"su","s":"s","x":243,"y":12.1},{"p":"su","s":"s","x":246,"y":12.1},{"p":"su","s":"s","x":249,"y":12.4},{"p":"su","s":"s","x":253,"y":12.5},{"p":"su","s":"s","x":256,"y":12.4},
{"p":"su","s":"s","x":21,"y":8.5},{"p":"su","s":"s","x":24,"y":7.4},{"p":"su","s":"s","x":28,"y":4.5},{"p":"su","s":"s","x":31,"y":5.4},{"p":"su","s":"s","x":34,"y":6.1},{"p":"su","s":"s","x":38,"y":6.6},{"p":"su","s":"s","x":41,"y":7.2},{"p":"su","s":"s","x":44,"y":7.6},{"p":"su","s":"s","x":48,"y":7.8},{"p":"su","s":"s","x":51,"y":8.0},{"p":"su","s":"s","x":54,"y":8.0},{"p":"su","s":"s","x":58,"y":7.9},{"p":"su","s":"s","x":61,"y":7.7},{"p":"su","s":"s","x":64,"y":7.4},{"p":"su","s":"s","x":68,"y":7.1},{"p":"su","s":"s","x":71,"y":8.4},{"p":"su","s":"s","x":93,"y":5.8},{"p":"su","s":"s","x":96,"y":6.8},{"p":"su","s":"s","x":99,"y":6.8},{"p":"su","s":"s","x":103,"y":6.8},{"p":"su","s":"s","x":106,"y":6.9},{"p":"su","s":"s","x":109,"y":7.1},{"p":"su","s":"s","x":113,"y":7.2},{"p":"su","s":"s","x":116,"y":7.2},{"p":"su","s":"s","x":119,"y":7.3},{"p":"su","s":"s","x":123,"y":7.2},{"p":"su","s":"s","x":126,"y":7.1},{"p":"su","s":"s","x":129,"y":6.9},{"p":"su","s":"s","x":133,"y":6.7},{"p":"su","s":"s","x":136,"y":6.5},{"p":"su","s":"s","x":139,"y":6.3},{"p":"su","s":"s","x":143,"y":6.1},{"p":"su","s":"s","x":146,"y":5.9},{"p":"su","s":"s","x":149,"y":5.8},{"p":"su","s":"s","x":153,"y":5.7},{"p":"su","s":"s","x":156,"y":5.5},{"p":"su","s":"s","x":159,"y":5.4},{"p":"su","s":"s","x":163,"y":5.3},{"p":"su","s":"s","x":166,"y":5.2},{"p":"su","s":"s","x":169,"y":5.1},{"p":"su","s":"s","x":173,"y":5.0},{"p":"su","s":"s","x":176,"y":4.8},{"p":"su","s":"s","x":178,"y":4.6},{"p":"su","s":"s","x":181,"y":3.2},{"p":"su","s":"s","x":184,"y":3.2},{"p":"su","s":"s","x":188,"y":3.3},{"p":"su","s":"s","x":191,"y":3.5},{"p":"su","s":"s","x":194,"y":4.1},{"p":"su","s":"s","x":198,"y":4.2},{"p":"su","s":"s","x":201,"y":4.3},{"p":"su","s":"s","x":203,"y":5.3},{"p":"su","s":"s","x":207,"y":5.3},{"p":"su","s":"s","x":210,"y":5.1},{"p":"su","s":"s","x":213,"y":5.0},{"p":"su","s":"s","x":217,"y":4.8},{"p":"su","s":"s","x":220,"y":5.0},{"p":"su","s":"s","x":223,"y":5.3},{"p":"su","s":"s","x":226,"y":4.6},{"p":"su","s":"s","x":229,"y":4.2},{"p":"su","s":"s","x":232,"y":3.7},{"p":"su","s":"s","x":235,"y":3.5},{"p":"su","s":"s","x":239,"y":3.2},{"p":"su","s":"s","x":242,"y":2.5},{"p":"su","s":"s","x":243,"y":3.7},{"p":"su","s":"s","x":247,"y":3.4}
]},
"facet":{"field":"p","type":"nominal","sort":["ba","ma","mu(k)","mu(r:)","sa","si","su"],"header":{"title":null,"labels":false,"labelFontSize":0,"labelPadding":0,"labelColor":"transparent","labelExpr":"''"}},
"columns":4,
"spacing":{"row":12,"column":7},
"spec":{
"width":274,"height":353,
"layer":[
{"transform":[{"filter":"isValid(datum.r)"}],
"mark":{"type":"rule","color":"#4D4D4D","strokeWidth":1},
"encoding":{
"x":{"field":"r","type":"quantitative","scale":{"domain":[0,276],"nice":false,"zero":false},"axis":null},
"y":{"datum":-0.26,"type":"quantitative","scale":{"domain":[-0.26,22.58],"nice":false,"zero":false},"axis":{"values":[0,5,10,15,20],"ticks":true,"tickSize":4,"tickColor":"#333333","domain":false,"grid":false,"labelFontSize":29,"labelColor":"#4D4D4D","labelPadding":3,"title":null}},
"y2":{"datum":20.13},
"strokeDash":{"field":"d","type":"nominal","scale":{"domain":["solid","dashed"],"range":[[1,0],[4,4]]},"legend":null}
}},
{"transform":[{"filter":"datum.s == 'u'"}],
"mark":{"type":"point","shape":"circle","stroke":"black","strokeWidth":0.8,"opacity":1,"size":60},
"encoding":{
"x":{"field":"x","type":"quantitative","axis":null},
"y":{"field":"y","type":"quantitative"},
"fill":{"field":"s","type":"nominal","scale":{"domain":["u","s"],"range":["transparent","black"]},
"legend":{"title":"First (target) syllable","orient":"none","legendX":232,"legendY":-42,"direction":"horizontal","titleOrient":"left","titleLimit":600,"labelExpr":"datum.value == 'u' ? 'unstressed' : 'stressed'","symbolSize":30,"symbolStrokeColor":"black","symbolStrokeWidth":1,"symbolType":"circle"}}
}},
{"transform":[{"filter":"datum.s == 's'"}],
"mark":{"type":"point","shape":"circle","stroke":"black","strokeWidth":0.6,"opacity":1,"size":22},
"encoding":{
"x":{"field":"x","type":"quantitative","axis":null},
"y":{"field":"y","type":"quantitative"},
"fill":{"field":"s","type":"nominal"}
}},
{"transform":[{"filter":"datum.d == 'dashed'"}],
"mark":{"type":"rule","color":"#A6A6A6","strokeWidth":1},
"encoding":{"y":{"datum":20.13,"type":"quantitative"}}},
{"transform":[{"filter":"datum.d == 'dashed'"}],
"mark":{"type":"text","fontSize":36,"fontWeight":"bold","color":"black","baseline":"middle","align":"center"},
"encoding":{"x":{"datum":138,"type":"quantitative","axis":null},"y":{"datum":21.36,"type":"quantitative"},"text":{"field":"p","type":"nominal"}}},
{"transform":[{"filter":"datum.d == 'dashed' && indexof(['mu(r:)','sa','si','su'], datum.p) >= 0"}],
"mark":{"type":"text","fontSize":15,"color":"#4D4D4D","baseline":"middle","align":"center"},
"encoding":{"x":{"datum":91,"type":"quantitative","axis":null},"y":{"datum":-1.05,"type":"quantitative"},"text":{"value":"σ1"}}},
{"transform":[{"filter":"datum.d == 'dashed' && indexof(['mu(r:)','sa','si','su'], datum.p) >= 0"}],
"mark":{"type":"text","fontSize":15,"color":"#4D4D4D","baseline":"middle","align":"center"},
"encoding":{"x":{"datum":122,"type":"quantitative","axis":null},"y":{"datum":-1.05,"type":"quantitative"},"text":{"value":"σ2"}}}
]
},
"config":{
"font":"Liberation Sans",
"view":{"stroke":"#A6A6A6","strokeWidth":1},
"header":{"labels":false,"title":null,"labelFontSize":0,"labelPadding":0},
"legend":{"titleFontSize":24,"titleFontWeight":"normal","titleColor":"black","labelFontSize":23,"labelColor":"black","titlePadding":8,"columnPadding":8,"labelOffset":2,"symbolStrokeColor":"black","titleLimit":600}
}
}
